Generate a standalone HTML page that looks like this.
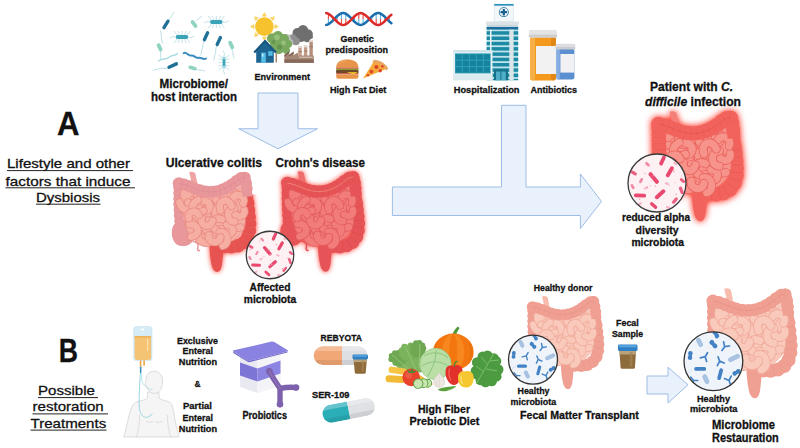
<!DOCTYPE html>
<html lang="en"><head><meta charset="utf-8"><title>Dysbiosis and microbiome restoration</title>
<style>
html,body{margin:0;padding:0;background:#fff;}
body{width:800px;height:448px;overflow:hidden;position:relative;}
svg{display:block;position:absolute;left:0;top:0;}
text{font-family:"Liberation Sans", sans-serif;fill:#111;stroke:#111;stroke-width:0.3px;}
</style></head><body>
<svg width="800" height="448" viewBox="0 0 800 448">
<defs>
<filter id="glow" x="-30%" y="-30%" width="160%" height="160%" color-interpolation-filters="sRGB">
<feGaussianBlur in="SourceAlpha" stdDeviation="3.2" result="b"/>
<feFlood flood-color="#ff6f66" flood-opacity="1"/><feComposite in2="b" operator="in" result="g"/>
<feComponentTransfer in="g" result="g2"><feFuncA type="linear" slope="1.35"/></feComponentTransfer>
<feMerge><feMergeNode in="g2"/><feMergeNode in="SourceGraphic"/></feMerge>
</filter>
<filter id="glowL" x="-30%" y="-30%" width="160%" height="160%" color-interpolation-filters="sRGB">
<feGaussianBlur in="SourceAlpha" stdDeviation="4" result="b"/>
<feFlood flood-color="#ff6458" flood-opacity="1"/><feComposite in2="b" operator="in" result="g"/>
<feComponentTransfer in="g" result="g2"><feFuncA type="linear" slope="1.6"/></feComponentTransfer>
<feMerge><feMergeNode in="g2"/><feMergeNode in="SourceGraphic"/></feMerge>
</filter>
<clipPath id="ucclip"><rect x="30" y="29" width="90" height="120"/></clipPath><g id="gs"><path d="M9.5 24.0C12.6 20.3 23.2 27.0 30.0 28.0C36.8 29.0 43.3 30.3 50.0 30.0C56.7 29.7 64.3 27.7 70.0 26.0C75.7 24.3 81.4 16.8 84.0 20.0C86.6 23.2 85.0 38.0 85.5 45.0C86.0 52.0 87.2 57.5 87.0 62.0C86.8 66.5 85.9 69.0 84.5 72.0C83.1 75.0 80.9 77.7 78.5 80.0C76.1 82.3 73.4 84.3 70.0 86.0C66.6 87.7 62.0 89.2 58.0 90.0C54.0 90.8 49.7 91.2 46.0 91.0C42.3 90.8 39.3 90.2 36.0 89.0C32.7 87.8 28.9 86.2 26.0 84.0C23.1 81.8 20.5 79.0 18.5 76.0C16.5 73.0 15.2 70.3 14.0 66.0C12.8 61.7 12.2 57.0 11.5 50.0C10.8 43.0 6.4 27.7 9.5 24.0Z" style="fill:var(--s);stroke:var(--so)" stroke-width="0.9"/><g fill="none" stroke-linecap="round"><g transform="translate(59.5 54.5) rotate(274)"><path d="M-8.6 -4.0C-8.6 8.0 8.6 8.0 8.6 -4.0" style="stroke:var(--so)" stroke-width="9.8"/><path d="M-8.6 -4.0C-8.6 8.0 8.6 8.0 8.6 -4.0" style="stroke:var(--s)" stroke-width="7.9"/></g><g transform="translate(56.9 72.2) rotate(160)"><path d="M-8.7 -4.2C-8.7 8.5 8.7 8.5 8.7 -4.2" style="stroke:var(--so)" stroke-width="9.8"/><path d="M-8.7 -4.2C-8.7 8.5 8.7 8.5 8.7 -4.2" style="stroke:var(--s)" stroke-width="7.9"/></g><g transform="translate(60.5 62.1) rotate(-16)"><path d="M-7.3 -2.9C-7.3 5.7 7.3 5.7 7.3 -2.9" style="stroke:var(--so)" stroke-width="9.8"/><path d="M-7.3 -2.9C-7.3 5.7 7.3 5.7 7.3 -2.9" style="stroke:var(--s)" stroke-width="7.9"/></g><g transform="translate(74.7 62.9) rotate(75)"><path d="M-7.6 -4.7C-7.6 9.4 7.6 9.4 7.6 -4.7" style="stroke:var(--so)" stroke-width="9.8"/><path d="M-7.6 -4.7C-7.6 9.4 7.6 9.4 7.6 -4.7" style="stroke:var(--s)" stroke-width="7.9"/></g><g transform="translate(16.6 41.6) rotate(-10)"><path d="M-8.7 -4.7C-8.7 9.4 8.7 9.4 8.7 -4.7" style="stroke:var(--so)" stroke-width="9.8"/><path d="M-8.7 -4.7C-8.7 9.4 8.7 9.4 8.7 -4.7" style="stroke:var(--s)" stroke-width="7.9"/></g><g transform="translate(49.5 41.5) rotate(96)"><path d="M-8.8 -3.7C-8.8 7.4 8.8 7.4 8.8 -3.7" style="stroke:var(--so)" stroke-width="9.8"/><path d="M-8.8 -3.7C-8.8 7.4 8.8 7.4 8.8 -3.7" style="stroke:var(--s)" stroke-width="7.9"/></g><g transform="translate(28.3 62.7) rotate(194)"><path d="M-8.9 -2.8C-8.9 5.6 8.9 5.6 8.9 -2.8" style="stroke:var(--so)" stroke-width="9.8"/><path d="M-8.9 -2.8C-8.9 5.6 8.9 5.6 8.9 -2.8" style="stroke:var(--s)" stroke-width="7.9"/></g><g transform="translate(58.4 33.9) rotate(-1)"><path d="M-8.2 -3.4C-8.2 6.8 8.2 6.8 8.2 -3.4" style="stroke:var(--so)" stroke-width="9.8"/><path d="M-8.2 -3.4C-8.2 6.8 8.2 6.8 8.2 -3.4" style="stroke:var(--s)" stroke-width="7.9"/></g><g transform="translate(35.0 53.5) rotate(-30)"><path d="M-7.6 -4.2C-7.6 8.4 7.6 8.4 7.6 -4.2" style="stroke:var(--so)" stroke-width="9.8"/><path d="M-7.6 -4.2C-7.6 8.4 7.6 8.4 7.6 -4.2" style="stroke:var(--s)" stroke-width="7.9"/></g><g transform="translate(45.6 33.0) rotate(111)"><path d="M-8.7 -3.5C-8.7 6.9 8.7 6.9 8.7 -3.5" style="stroke:var(--so)" stroke-width="9.8"/><path d="M-8.7 -3.5C-8.7 6.9 8.7 6.9 8.7 -3.5" style="stroke:var(--s)" stroke-width="7.9"/></g><g transform="translate(24.8 32.9) rotate(298)"><path d="M-8.6 -3.6C-8.6 7.2 8.6 7.2 8.6 -3.6" style="stroke:var(--so)" stroke-width="9.8"/><path d="M-8.6 -3.6C-8.6 7.2 8.6 7.2 8.6 -3.6" style="stroke:var(--s)" stroke-width="7.9"/></g><g transform="translate(35.0 33.3) rotate(25)"><path d="M-7.7 -4.0C-7.7 8.0 7.7 8.0 7.7 -4.0" style="stroke:var(--so)" stroke-width="9.8"/><path d="M-7.7 -4.0C-7.7 8.0 7.7 8.0 7.7 -4.0" style="stroke:var(--s)" stroke-width="7.9"/></g><g transform="translate(68.3 71.7) rotate(262)"><path d="M-6.0 -2.9C-6.0 5.8 6.0 5.8 6.0 -2.9" style="stroke:var(--so)" stroke-width="9.8"/><path d="M-6.0 -2.9C-6.0 5.8 6.0 5.8 6.0 -2.9" style="stroke:var(--s)" stroke-width="7.9"/></g><g transform="translate(47.9 73.8) rotate(10)"><path d="M-9.0 -4.5C-9.0 9.0 9.0 9.0 9.0 -4.5" style="stroke:var(--so)" stroke-width="9.8"/><path d="M-9.0 -4.5C-9.0 9.0 9.0 9.0 9.0 -4.5" style="stroke:var(--s)" stroke-width="7.9"/></g><g transform="translate(72.6 42.2) rotate(172)"><path d="M-8.2 -3.9C-8.2 7.8 8.2 7.8 8.2 -3.9" style="stroke:var(--so)" stroke-width="9.8"/><path d="M-8.2 -3.9C-8.2 7.8 8.2 7.8 8.2 -3.9" style="stroke:var(--s)" stroke-width="7.9"/></g><g transform="translate(46.4 52.3) rotate(267)"><path d="M-7.6 -3.8C-7.6 7.6 7.6 7.6 7.6 -3.8" style="stroke:var(--so)" stroke-width="9.8"/><path d="M-7.6 -3.8C-7.6 7.6 7.6 7.6 7.6 -3.8" style="stroke:var(--s)" stroke-width="7.9"/></g><g transform="translate(80.4 52.2) rotate(-13)"><path d="M-6.3 -2.8C-6.3 5.6 6.3 5.6 6.3 -2.8" style="stroke:var(--so)" stroke-width="9.8"/><path d="M-6.3 -2.8C-6.3 5.6 6.3 5.6 6.3 -2.8" style="stroke:var(--s)" stroke-width="7.9"/></g><g transform="translate(68.3 32.4) rotate(-0)"><path d="M-7.8 -4.6C-7.8 9.2 7.8 9.2 7.8 -4.6" style="stroke:var(--so)" stroke-width="9.8"/><path d="M-7.8 -4.6C-7.8 9.2 7.8 9.2 7.8 -4.6" style="stroke:var(--s)" stroke-width="7.9"/></g><g transform="translate(79.8 33.9) rotate(208)"><path d="M-7.1 -3.0C-7.1 6.1 7.1 6.1 7.1 -3.0" style="stroke:var(--so)" stroke-width="9.8"/><path d="M-7.1 -3.0C-7.1 6.1 7.1 6.1 7.1 -3.0" style="stroke:var(--s)" stroke-width="7.9"/></g><g transform="translate(70.5 53.6) rotate(91)"><path d="M-8.3 -3.4C-8.3 6.9 8.3 6.9 8.3 -3.4" style="stroke:var(--so)" stroke-width="9.8"/><path d="M-8.3 -3.4C-8.3 6.9 8.3 6.9 8.3 -3.4" style="stroke:var(--s)" stroke-width="7.9"/></g><g transform="translate(39.5 43.3) rotate(270)"><path d="M-6.7 -3.6C-6.7 7.1 6.7 7.1 6.7 -3.6" style="stroke:var(--so)" stroke-width="9.8"/><path d="M-6.7 -3.6C-6.7 7.1 6.7 7.1 6.7 -3.6" style="stroke:var(--s)" stroke-width="7.9"/></g><g transform="translate(62.1 41.7) rotate(159)"><path d="M-7.3 -4.4C-7.3 8.7 7.3 8.7 7.3 -4.4" style="stroke:var(--so)" stroke-width="9.8"/><path d="M-7.3 -4.4C-7.3 8.7 7.3 8.7 7.3 -4.4" style="stroke:var(--s)" stroke-width="7.9"/></g><g transform="translate(51.9 64.0) rotate(117)"><path d="M-7.2 -3.9C-7.2 7.8 7.2 7.8 7.2 -3.9" style="stroke:var(--so)" stroke-width="9.8"/><path d="M-7.2 -3.9C-7.2 7.8 7.2 7.8 7.2 -3.9" style="stroke:var(--s)" stroke-width="7.9"/></g><g transform="translate(33.8 72.5) rotate(160)"><path d="M-6.4 -3.5C-6.4 6.9 6.4 6.9 6.4 -3.5" style="stroke:var(--so)" stroke-width="9.8"/><path d="M-6.4 -3.5C-6.4 6.9 6.4 6.9 6.4 -3.5" style="stroke:var(--s)" stroke-width="7.9"/></g><g transform="translate(37.9 83.4) rotate(15)"><path d="M-8.9 -3.3C-8.9 6.6 8.9 6.6 8.9 -3.3" style="stroke:var(--so)" stroke-width="9.8"/><path d="M-8.9 -3.3C-8.9 6.6 8.9 6.6 8.9 -3.3" style="stroke:var(--s)" stroke-width="7.9"/></g><g transform="translate(28.9 44.4) rotate(63)"><path d="M-7.4 -4.6C-7.4 9.2 7.4 9.2 7.4 -4.6" style="stroke:var(--so)" stroke-width="9.8"/><path d="M-7.4 -4.6C-7.4 9.2 7.4 9.2 7.4 -4.6" style="stroke:var(--s)" stroke-width="7.9"/></g><g transform="translate(24.3 72.3) rotate(262)"><path d="M-7.6 -4.1C-7.6 8.2 7.6 8.2 7.6 -4.1" style="stroke:var(--so)" stroke-width="9.8"/><path d="M-7.6 -4.1C-7.6 8.2 7.6 8.2 7.6 -4.1" style="stroke:var(--s)" stroke-width="7.9"/></g><g transform="translate(61.1 82.3) rotate(257)"><path d="M-8.5 -3.3C-8.5 6.6 8.5 6.6 8.5 -3.3" style="stroke:var(--so)" stroke-width="9.8"/><path d="M-8.5 -3.3C-8.5 6.6 8.5 6.6 8.5 -3.3" style="stroke:var(--s)" stroke-width="7.9"/></g><g transform="translate(40.0 62.7) rotate(12)"><path d="M-6.8 -3.5C-6.8 6.9 6.8 6.9 6.8 -3.5" style="stroke:var(--so)" stroke-width="9.8"/><path d="M-6.8 -3.5C-6.8 6.9 6.8 6.9 6.8 -3.5" style="stroke:var(--s)" stroke-width="7.9"/></g><g transform="translate(49.3 82.8) rotate(10)"><path d="M-7.2 -3.1C-7.2 6.3 7.2 6.3 7.2 -3.1" style="stroke:var(--so)" stroke-width="9.8"/><path d="M-7.2 -3.1C-7.2 6.3 7.2 6.3 7.2 -3.1" style="stroke:var(--s)" stroke-width="7.9"/></g><g transform="translate(23.6 53.4) rotate(162)"><path d="M-6.4 -2.8C-6.4 5.7 6.4 5.7 6.4 -2.8" style="stroke:var(--so)" stroke-width="9.8"/><path d="M-6.4 -2.8C-6.4 5.7 6.4 5.7 6.4 -2.8" style="stroke:var(--s)" stroke-width="7.9"/></g></g></g></defs>
<path d="M258 93 H298 V128.75 H317.5 L278 148.75 L238.75 128.75 H258 Z" fill="#e9f2fc" stroke="#9dbce6" stroke-width="1" stroke-linejoin="miter"/>
<path d="M501.5 105.3 H526 V187 H580.4 V174 L601.5 201.4 L580.4 228.5 V215.5 H392.4 V187 H501.5 Z" fill="#e9f2fc" stroke="#9dbce6" stroke-width="1"/>
<path d="M647 376 H668 V367.25 L688 384.75 L668 403 V394 H647 Z" fill="#e9f2fc" stroke="#9dbce6" stroke-width="1"/>
<path d="M147.6 392 C147.4 396 147.6 398 146.5 399 C142 401 137 401.2 134.2 403.5 C130.5 407 129 416 127 424 C125.8 430 124.6 434 123.6 437 L179 437 C178 433 176.8 429 175.6 423 C173.8 414 173.5 406 170.5 402.8 C168 400.6 163 400.8 160 399 C158.8 398 159 395.5 159 392 Z" fill="#f5f5f5" stroke="#d4d4d4" stroke-width="0.8"/><path d="M139.5 415 C140 423 138 431 136.5 437 M167.5 415 C167 423 169 431 170.5 437 M146 421 q4 2.5 7.5 0.5 M155.5 421.5 q4 2 7 -0.5" fill="none" stroke="#d4d4d4" stroke-width="0.7"/><path d="M153.8 371.3 C159.5 371.3 162.8 375.5 162.6 381.5 C162.5 384 162.2 385.5 161.6 387 C161 390 158.5 393.4 154.5 393.4 C151 393.4 148.2 391 147 387.5 C146.2 387.4 145.2 385.5 145.2 383.5 C145.2 382.3 145.6 381.8 146 381.8 C145.2 376 148.5 371.3 153.8 371.3Z" fill="#f5f5f5" stroke="#d4d4d4" stroke-width="0.8"/><path d="M140.4 373 C139.6 385 139 398 139.2 406 C139.5 416 146 421.5 152.4 413.6" fill="none" stroke="#8fd0dc" stroke-width="0.9"/><path d="M141.4 373 C141.6 380 142 384 145.4 386 C148 387.8 150.5 390.5 152.6 389.2" fill="none" stroke="#a6dbe5" stroke-width="0.8"/><rect x="133.7" y="326.6" width="18.3" height="34" rx="2.6" fill="#d6ecf7" stroke="#c2e0f0" stroke-width="0.6"/><path d="M134.6 336 H151.1 V357.6 Q151.1 359.9 148.8 359.9 H136.9 Q134.6 359.9 134.6 357.6 Z" fill="#f5c374"/><rect x="134.6" y="336" width="16.5" height="1.6" fill="#eeb258"/><ellipse cx="142.6" cy="329.4" rx="1.7" ry="0.9" fill="#fff"/><rect x="147" y="338.5" width="1.1" height="12.5" rx="0.5" fill="#fbe3b4"/><rect x="139.8" y="360.4" width="1.6" height="6.4" fill="#e9a545"/><rect x="143.3" y="360.4" width="1.6" height="5.2" fill="#e9a545"/><rect x="139.9" y="366.8" width="1.5" height="6.2" rx="0.5" fill="#2f8fc4"/>
<path d="M240 354 L257.5 360 L257.5 393 L241.5 387.5 Q240 387 240 385.5 Z" fill="#e9e9f1"/><path d="M257.5 360 L280.5 352 L280.5 384.5 Q280.5 386 279 386.5 L257.5 393 Z" fill="#f4f4f8"/><path d="M240 362.5 L257.5 368.5 L257.5 381.5 L240 375.5 Z" fill="#7d75d6"/><path d="M257.5 368.5 L280.5 360.5 L280.5 373.5 L257.5 381.5 Z" fill="#8c84e2"/><path d="M233.4 351.6 Q232 350.8 233.8 350.3 L271.5 341.6 Q273 341.3 274.3 342 L287.4 350 Q288.8 351 287.2 351.5 L250.3 360.6 Q248.6 361 247.2 360.2 Z" fill="#8a82e0"/><path d="M233.2 351.5 L247.2 360.2 Q248.6 361 250.3 360.6 L287.5 351.4 L287.5 352.6 L250.3 362 Q248.6 362.4 247.2 361.6 L233.2 352.9 Z" fill="#756dcb"/><path d="M269.2 371 C272 377 276.5 383 280 388.5 L280 404.5 M280 388.5 C285 387.5 291 387 296.2 387.6" fill="none" stroke="#7d61ad" stroke-width="5.4" stroke-linecap="round" stroke-linejoin="round"/><g fill="#7d61ad"><circle cx="269.4" cy="371.4" r="3.3"/><circle cx="280" cy="404.2" r="3.3"/><circle cx="296" cy="387.6" r="3.3"/></g><path d="M269.6 371.5 C272 377 276.5 383 280 388.5" fill="none" stroke="#8e74bb" stroke-width="1.6" stroke-linecap="round" opacity="0.7"/>
<clipPath id="cpA"><rect x="313.7" y="346.2" width="53.8" height="18.8" rx="9.4"/></clipPath><g clip-path="url(#cpA)"><rect x="313" y="346" width="29" height="20" fill="#f1a776"/><rect x="342" y="346" width="26" height="20" fill="#dedfe3"/><rect x="313" y="346" width="55" height="5" fill="#fff" opacity="0.25"/><rect x="313" y="360" width="55" height="5.5" fill="#000" opacity="0.07"/></g><path d="M353.6 359.0 H366.9 L365.7 372.8 Q365.5 373.8 364.3 373.8 H356.2 Q355.0 373.8 354.8 372.8 Z" fill="#8d6b3a"/><rect x="353.9" y="359.0" width="12.7" height="3.1" fill="#b9a27a"/><rect x="361.8" y="360.5" width="2.1" height="11.3" fill="#a58655" opacity="0.7"/><rect x="352.5" y="354.5" width="15.5" height="5.0" rx="1.4" fill="#2f80c4"/><rect x="353.3" y="355.2" width="13.9" height="1.5" rx="0.8" fill="#5aa5e0"/><g transform="translate(348.7 410.3) rotate(-11)"><clipPath id="cpB"><rect x="-26.5" y="-9" width="53" height="18" rx="9"/></clipPath><g clip-path="url(#cpB)"><rect x="-27" y="-9" width="27" height="18" fill="#2aaeb8"/><rect x="0" y="-9" width="27" height="18" fill="#dfe1e5"/><rect x="-27" y="-9" width="54" height="4.5" fill="#fff" opacity="0.28"/><rect x="-27" y="4" width="54" height="5" fill="#000" opacity="0.08"/></g></g><path d="M619.4 350.6 H636.1 L634.9 367.7 Q634.7 368.7 633.5 368.7 H622.0 Q620.8 368.7 620.6 367.7 Z" fill="#8d6b3a"/><rect x="619.7" y="350.6" width="16.2" height="3.9" fill="#b9a27a"/><rect x="629.8" y="352.1" width="2.7" height="14.6" fill="#a58655" opacity="0.7"/><rect x="618.0" y="344.5" width="19.5" height="6.6" rx="1.4" fill="#2f80c4"/><rect x="618.8" y="345.2" width="17.9" height="2.0" rx="0.8" fill="#5aa5e0"/>
<path d="M168.8 19.5 C170.5 17 171.5 17.5 172 15.5 C172.4 14 173.4 14.2 173.8 12.6 M203.8 41.5 C202 45 203.5 46.5 202 49.5 C201 51.5 202 53 200.6 55 M216.6 46 C215 50 216.5 51 215 54.5 C214 56.5 215 58 213.6 60 M167.5 68 C163 69.5 162 67 158.5 69 C156.5 70 155.5 69 153.6 70.4 M160.4 51 C161.4 54.5 159.8 56.5 161.2 59.5 M232 49.5 C233.5 52.5 232.5 55.5 234 58 M196 69.5 C199 70.8 201 69.2 204.5 71 M162.5 43 C160.5 38 162.2 35 160.4 31 M196.4 20.5 C198.5 17.5 200.5 18.5 202 16" fill="none" stroke="#a9d6e0" stroke-width="0.8" stroke-linecap="round"/><path d="M158.6 61 C163 57.5 165.5 60.5 169.5 57 C172 54.8 174.5 56.4 177.5 53.4" fill="none" stroke="#a5dbe0" stroke-width="1.4" stroke-linecap="round"/><path d="M-5.0 -1.2Q-5.6 -3.6 -8.2 -6.0M-5.0 1.2Q-5.6 3.6 -8.2 6.0M-2.5 -1.2Q-2.8 -3.6 -4.2 -6.0M-2.5 1.2Q-2.8 3.6 -4.2 6.0M0.0 -1.2Q0.0 -3.6 0.0 -6.0M0.0 1.2Q0.0 3.6 0.0 6.0M2.5 -1.2Q2.8 -3.6 4.2 -6.0M2.5 1.2Q2.8 3.6 4.2 6.0M5.0 -1.2Q5.6 -3.6 8.2 -6.0M5.0 1.2Q5.6 3.6 8.2 6.0M-6.25 0 q-3 -1.5 -6 1 M6.25 0 q3 1.5 6 -1" fill="none" stroke="#a9d6e0" stroke-width="0.7" transform="translate(216.3 22) rotate(0)"/><rect x="-6.25" y="-1.9" width="12.5" height="3.8" rx="1.9" fill="#3aa3b8" transform="translate(216.3 22) rotate(0)"/><path d="M-5.0 -1.2Q-5.6 -3.6 -8.2 -6.0M-5.0 1.2Q-5.6 3.6 -8.2 6.0M-2.5 -1.2Q-2.8 -3.6 -4.2 -6.0M-2.5 1.2Q-2.8 3.6 -4.2 6.0M0.0 -1.2Q0.0 -3.6 0.0 -6.0M0.0 1.2Q0.0 3.6 0.0 6.0M2.5 -1.2Q2.8 -3.6 4.2 -6.0M2.5 1.2Q2.8 3.6 4.2 6.0M5.0 -1.2Q5.6 -3.6 8.2 -6.0M5.0 1.2Q5.6 3.6 8.2 6.0M-6.25 0 q-3 -1.5 -6 1 M6.25 0 q3 1.5 6 -1" fill="none" stroke="#a9d6e0" stroke-width="0.7" transform="translate(182 37) rotate(0)"/><rect x="-6.25" y="-1.9" width="12.5" height="3.8" rx="1.9" fill="#3aa3b8" transform="translate(182 37) rotate(0)"/><path d="M-4.8 -1.2Q-5.4 -3.3 -7.7 -5.5M-4.8 1.2Q-5.4 3.3 -7.7 5.5M-2.4 -1.2Q-2.7 -3.3 -3.9 -5.5M-2.4 1.2Q-2.7 3.3 -3.9 5.5M0.0 -1.2Q0.0 -3.3 0.0 -5.5M0.0 1.2Q0.0 3.3 0.0 5.5M2.4 -1.2Q2.7 -3.3 3.9 -5.5M2.4 1.2Q2.7 3.3 3.9 5.5M4.8 -1.2Q5.4 -3.3 7.7 -5.5M4.8 1.2Q5.4 3.3 7.7 5.5M-6.0 0 q-3 -1.5 -6 1 M6.0 0 q3 1.5 6 -1" fill="none" stroke="#a9d6e0" stroke-width="0.7" transform="translate(224 62.5) rotate(90)"/><rect x="-6.0" y="-2.0" width="12" height="4" rx="2.0" fill="#a5dbe0" transform="translate(224 62.5) rotate(90)"/><rect x="-3.5" y="-1.0" width="7" height="2" rx="1.0" fill="#3aa3b8" transform="translate(224 62.5) rotate(90)"/><rect x="-5.5" y="-1.65" width="11" height="3.3" rx="1.65" fill="#1f6f97" transform="translate(166 24.4) rotate(-58)"/><rect x="-5.5" y="-1.65" width="11" height="3.3" rx="1.65" fill="#1f6f97" transform="translate(206 36.3) rotate(-65)"/><rect x="-5.5" y="-1.65" width="11" height="3.3" rx="1.65" fill="#1f6f97" transform="translate(218.8 41) rotate(-65)"/><rect x="-5.75" y="-1.7" width="11.5" height="3.4" rx="1.7" fill="#1f6f97" transform="translate(172.7 65.6) rotate(-25)"/><rect x="-4.3" y="-1.9" width="8.6" height="3.8" rx="1.9" fill="#8fd3c0" transform="translate(194 24) rotate(52)"/><rect x="-4.5" y="-1.9" width="9" height="3.8" rx="1.9" fill="#8fd3c0" transform="translate(231.2 45) rotate(65)"/><rect x="-4.3" y="-1.9" width="8.6" height="3.8" rx="1.9" fill="#8fd3c0" transform="translate(159.6 47.3) rotate(65)"/><rect x="-4.3" y="-1.8" width="8.6" height="3.6" rx="1.8" fill="#8fd3c0" transform="translate(192.6 68) rotate(15)"/><path d="M183.6 53.2 C186.5 51 188 56.5 191 55.5 C194 54.5 195.5 58.8 198.5 57.8 C201 56.8 202.4 60 206 58.6" fill="none" stroke="#3b8dbf" stroke-width="2" stroke-linecap="round"/>
<path d="M262.3 16.2L264.4 12.6L266.5 16.2ZM270.3 17.8L274.3 16.7L273.2 20.7ZM274.8 24.5L278.4 26.6L274.8 28.7ZM273.2 32.5L274.3 36.5L270.3 35.4ZM266.5 37.0L264.4 40.6L262.3 37.0ZM258.5 35.4L254.5 36.5L255.6 32.5ZM254.0 28.7L250.4 26.6L254.0 24.5ZM255.6 20.7L254.5 16.7L258.5 17.8Z" fill="#f9d35f" stroke="#f9d35f" stroke-width="0.6" stroke-linejoin="round"/><circle cx="264.4" cy="26.6" r="9.3" fill="#f6c22d"/><g fill="#6f6f6f"><circle cx="297.5" cy="33" r="5"/><circle cx="303" cy="30.5" r="5.4"/><circle cx="308.5" cy="34" r="4.4"/><circle cx="301" cy="37.5" r="4.6"/><circle cx="307" cy="38.8" r="3.4"/><circle cx="311" cy="37" r="2"/></g><g fill="#8f8f8f"><circle cx="292.6" cy="38.6" r="4.4"/><circle cx="296" cy="41.4" r="3.8"/></g><g fill="#bdbdbd"><circle cx="286.6" cy="38.4" r="4.4"/><circle cx="289.4" cy="42.6" r="3.8"/><circle cx="284.4" cy="42" r="3"/></g><rect x="275.6" y="50" width="1.3" height="12.5" fill="#9a7a5c"/><rect x="286.4" y="50" width="1.3" height="12.5" fill="#9a7a5c"/><g fill="#79a95f"><circle cx="272" cy="38.5" r="5"/><circle cx="278" cy="36" r="5"/><circle cx="284" cy="39" r="5"/><circle cx="276" cy="43.5" r="6"/><circle cx="283.5" cy="46" r="5.6"/><circle cx="288" cy="44" r="4"/><circle cx="279" cy="49.5" r="4.6"/><circle cx="286.5" cy="50.5" r="3.6"/></g><g fill="#96c079"><circle cx="277" cy="37.2" r="2.8"/><circle cx="283.5" cy="43" r="2.4"/></g><g fill="#64954e"><circle cx="279.5" cy="47" r="2.6"/><circle cx="273.5" cy="42" r="2"/></g><rect x="309.4" y="40" width="3.4" height="22.5" fill="#b58f7c"/><rect x="309.4" y="40" width="3.4" height="2" fill="#e4dcd6"/><rect x="309.4" y="46" width="3.4" height="1.2" fill="#9a7664"/><rect x="303.9" y="45.6" width="3.4" height="17" fill="#c49d8a"/><rect x="303.9" y="45.6" width="3.4" height="1.8" fill="#e4dcd6"/><rect x="303.9" y="50.5" width="3.4" height="1.2" fill="#a4806e"/><rect x="298.3" y="46.2" width="3.4" height="16.4" fill="#c49d8a"/><rect x="298.3" y="46.2" width="3.4" height="1.8" fill="#e4dcd6"/><rect x="298.3" y="51" width="3.4" height="1.2" fill="#a4806e"/><path d="M284.4 62.8 V55 L289 51.6 V55 L293.6 51.6 V55 L298 52.6 V55.4 H313.8 V62.8 Z" fill="#a68877"/><path d="M284.4 55 L289 51.6 V53.4 L284.4 56.8Z M289 55 L293.6 51.6 V53.4 L289 56.8Z" fill="#7d5f50"/><rect x="284.4" y="59.4" width="29.4" height="3.4" fill="#86695a"/><path d="M299 56.6h13.6v1.4h-13.6z" fill="#cdb8aa"/><path d="M256.2 51 L265 40 L273.8 51 L273.8 62.8 L256.2 62.8 Z" fill="#1d6491"/><path d="M253.4 51.8 L265 39.4 L276.8 51.8 L275.2 53.2 L265 42.4 L255 53.2 Z" fill="#17577f"/><rect x="261.2" y="52.6" width="4.6" height="10.2" fill="#54bde6"/><rect x="262" y="53.6" width="1.4" height="3" fill="#c8ecf9"/><rect x="268.2" y="51.2" width="4.4" height="4.6" fill="#54bde6"/>
<path d="M328.4 13.8V19.0" stroke="#e8453f" stroke-width="1.1"/><path d="M328.4 19.0V24.2" stroke="#58b4e0" stroke-width="1.1"/><path d="M337.1 16.2V19.0" stroke="#58b4e0" stroke-width="1.1"/><path d="M337.1 19.0V21.8" stroke="#e8453f" stroke-width="1.1"/><path d="M341.4 13.4V19.0" stroke="#58b4e0" stroke-width="1.1"/><path d="M341.4 19.0V24.6" stroke="#e8453f" stroke-width="1.1"/><path d="M345.8 13.8V19.0" stroke="#58b4e0" stroke-width="1.1"/><path d="M345.8 19.0V24.2" stroke="#e8453f" stroke-width="1.1"/><path d="M354.5 16.3V19.0" stroke="#e8453f" stroke-width="1.1"/><path d="M354.5 19.0V21.7" stroke="#58b4e0" stroke-width="1.1"/><path d="M358.8 13.4V19.0" stroke="#e8453f" stroke-width="1.1"/><path d="M358.8 19.0V24.6" stroke="#58b4e0" stroke-width="1.1"/><path d="M363.1 13.7V19.0" stroke="#e8453f" stroke-width="1.1"/><path d="M363.1 19.0V24.3" stroke="#58b4e0" stroke-width="1.1"/><path d="M371.8 16.4V19.0" stroke="#58b4e0" stroke-width="1.1"/><path d="M371.8 19.0V21.6" stroke="#e8453f" stroke-width="1.1"/><path d="M376.2 13.4V19.0" stroke="#58b4e0" stroke-width="1.1"/><path d="M376.2 19.0V24.6" stroke="#e8453f" stroke-width="1.1"/><path d="M380.5 13.7V19.0" stroke="#58b4e0" stroke-width="1.1"/><path d="M380.5 19.0V24.3" stroke="#e8453f" stroke-width="1.1"/><path d="M384.9 17.0V19.0" stroke="#58b4e0" stroke-width="1.1"/><path d="M384.9 19.0V21.0" stroke="#e8453f" stroke-width="1.1"/><path d="M389.2 16.6V19.0" stroke="#e8453f" stroke-width="1.1"/><path d="M389.2 19.0V21.4" stroke="#58b4e0" stroke-width="1.1"/><path d="M326.2 24.9L327.1 24.7L328.0 24.4L328.9 23.9L329.8 23.3L330.7 22.6L331.6 21.8L332.5 20.9L333.4 20.0L334.3 19.0L335.3 18.0L336.2 17.1L337.1 16.2L338.0 15.4L338.9 14.7L339.8 14.1L340.7 13.6L341.6 13.3L342.5 13.1L343.4 13.1L344.3 13.2L345.2 13.5L346.1 13.9L347.0 14.5L347.9 15.2L348.8 16.0L349.7 16.8L350.6 17.7L351.6 18.7L352.5 19.6L353.4 20.6L354.3 21.5L355.2 22.3L356.1 23.1L357.0 23.7L357.9 24.2L358.8 24.6L359.7 24.8L360.6 24.9L361.5 24.8L362.4 24.6L363.3 24.2L364.2 23.7L365.1 23.0L366.0 22.3L366.9 21.5L367.9 20.6L368.8 19.6L369.7 18.7L370.6 17.7L371.5 16.8L372.4 15.9L373.3 15.2L374.2 14.5L375.1 13.9L376.0 13.5L376.9 13.2L377.8 13.1L378.7 13.1L379.6 13.3L380.5 13.7L381.4 14.1L382.3 14.7L383.2 15.4L384.2 16.3L385.1 17.1L386.0 18.1L386.9 19.0L387.8 20.0L388.7 20.9L389.6 21.8L390.5 22.6L391.4 23.3" fill="none" stroke="#1b6fae" stroke-width="2.5" stroke-linecap="round"/><path d="M326.2 13.1L327.1 13.3L328.0 13.6L328.9 14.1L329.8 14.7L330.7 15.4L331.6 16.2L332.5 17.1L333.4 18.0L334.3 19.0L335.3 20.0L336.2 20.9L337.1 21.8L338.0 22.6L338.9 23.3L339.8 23.9L340.7 24.4L341.6 24.7L342.5 24.9L343.4 24.9L344.3 24.8L345.2 24.5L346.1 24.1L347.0 23.5L347.9 22.8L348.8 22.0L349.7 21.2L350.6 20.3L351.6 19.3L352.5 18.4L353.4 17.4L354.3 16.5L355.2 15.7L356.1 14.9L357.0 14.3L357.9 13.8L358.8 13.4L359.7 13.2L360.6 13.1L361.5 13.2L362.4 13.4L363.3 13.8L364.2 14.3L365.1 15.0L366.0 15.7L366.9 16.5L367.9 17.4L368.8 18.4L369.7 19.3L370.6 20.3L371.5 21.2L372.4 22.1L373.3 22.8L374.2 23.5L375.1 24.1L376.0 24.5L376.9 24.8L377.8 24.9L378.7 24.9L379.6 24.7L380.5 24.3L381.4 23.9L382.3 23.3L383.2 22.6L384.2 21.7L385.1 20.9L386.0 19.9L386.9 19.0L387.8 18.0L388.7 17.1L389.6 16.2L390.5 15.4L391.4 14.7" fill="none" stroke="#dc2b2b" stroke-width="2.5" stroke-linecap="round"/>
<path d="M336.2 67.6 C336.2 61.5 341.5 59.5 347.2 59.5 C353 59.5 358.4 61.5 358.4 67.6 Z" fill="#e8944a"/><path d="M338.6 64.6 C340 61.8 343.6 60.8 346.6 60.8" fill="none" stroke="#f1ad6c" stroke-width="1"/><rect x="335.9" y="67.4" width="22.8" height="1.3" rx="0.6" fill="#d8472f"/><rect x="336.2" y="68.6" width="22.2" height="1.7" fill="#8a9a35"/><rect x="336" y="70.1" width="22.6" height="3.1" rx="1.2" fill="#6e4a2a"/><path d="M347 72.2 H357.6 L353.6 75 L350.6 73.6 Z" fill="#f6c431"/><rect x="336.2" y="73.2" width="22.2" height="1.2" fill="#c9452e"/><path d="M336.2 74.4 H358.4 V76.2 Q358.4 78.8 355.6 78.8 H339 Q336.2 78.8 336.2 76.2 Z" fill="#e8944a"/><path d="M347 72.4 H357 L353.6 74.6 L350.8 73.4 Z" fill="#f6c431"/><path d="M363 78.6 L374.5 60.5 C379.5 61 384.5 64 387.3 68.6 Z" fill="#f5ab3c"/><path d="M373.6 59.8 C379.8 59.8 385.6 63.4 388.2 68.4 L386.2 70.4 C383.6 65.8 379 63 372.4 62.8 Z" fill="#e8a55e"/><g fill="#e0452c"><circle cx="376.4" cy="67" r="2.1"/><circle cx="371.4" cy="71.6" r="1.9"/><circle cx="380.2" cy="70.8" r="1.7"/><circle cx="382.4" cy="66.4" r="1.3"/><circle cx="368" cy="75.2" r="1.2"/></g>
<rect x="494.2" y="4" width="19.4" height="17.6" fill="#f3f7f9" stroke="#d3e4ea" stroke-width="0.6"/><rect x="494.2" y="4" width="19.4" height="1.7" fill="#2e93bd"/><circle cx="503.8" cy="12.2" r="4.9" fill="#1f6f9c"/><circle cx="503.8" cy="12.2" r="4.1" fill="#f3f7f9"/><path d="M502.7 8.9h2.2v2.2h2.2v2.2h-2.2v2.2h-2.2v-2.2h-2.2v-2.2h2.2z" fill="#1a5f8f"/><rect x="485.8" y="21.6" width="33.2" height="3.2" rx="0.8" fill="#dbe3e6"/><rect x="486.6" y="24.6" width="31.6" height="2.6" fill="#c7d6db"/><rect x="486.6" y="27" width="31.6" height="53.2" fill="#bde3eb"/><rect x="486.6" y="27" width="31.6" height="2.6" fill="#1a6fa0"/><rect x="486.6" y="31.2" width="31.6" height="3.5" fill="#1c8aa5"/><rect x="486.6" y="36.5" width="31.6" height="3.5" fill="#1c8aa5"/><rect x="486.6" y="41.8" width="31.6" height="3.5" fill="#1c8aa5"/><rect x="486.6" y="47.1" width="31.6" height="3.5" fill="#1c8aa5"/><rect x="486.6" y="52.4" width="31.6" height="3.5" fill="#1c8aa5"/><rect x="486.6" y="57.7" width="31.6" height="3.5" fill="#1c8aa5"/><rect x="486.6" y="63.0" width="31.6" height="3.5" fill="#1c8aa5"/><rect x="486.6" y="68.3" width="31.6" height="3.5" fill="#1c8aa5"/><rect x="486.6" y="73.6" width="31.6" height="3.5" fill="#1c8aa5"/><rect x="486.6" y="78.9" width="31.6" height="1.3" fill="#1c8aa5"/><rect x="490" y="29.6" width="1.5" height="50.6" fill="#eef5f7"/><rect x="509.3" y="29.6" width="4.3" height="50.6" fill="#dbe6ea"/><rect x="494" y="69.5" width="14" height="10.7" fill="#15708a"/><rect x="496" y="71.5" width="4.4" height="8.7" fill="#4eaec8"/><rect x="501.4" y="71.5" width="4.4" height="8.7" fill="#4eaec8"/><rect x="453" y="50" width="39.5" height="30.2" fill="#e6f1f4"/><rect x="453" y="50" width="39.5" height="2.2" fill="#cfe4ea"/><rect x="455" y="53.4" width="35.6" height="20" fill="#2a9db7"/><rect x="455.8" y="54.4" width="5.9" height="5.2" fill="#17829c"/><rect x="462.9" y="54.4" width="5.9" height="5.2" fill="#17829c"/><rect x="469.9" y="54.4" width="5.9" height="5.2" fill="#17829c"/><rect x="476.9" y="54.4" width="5.9" height="5.2" fill="#17829c"/><rect x="484.0" y="54.4" width="5.9" height="5.2" fill="#17829c"/><rect x="455.8" y="60.8" width="5.9" height="5.2" fill="#17829c"/><rect x="462.9" y="60.8" width="5.9" height="5.2" fill="#17829c"/><rect x="469.9" y="60.8" width="5.9" height="5.2" fill="#17829c"/><rect x="476.9" y="60.8" width="5.9" height="5.2" fill="#17829c"/><rect x="484.0" y="60.8" width="5.9" height="5.2" fill="#17829c"/><rect x="455.8" y="67.2" width="5.9" height="5.2" fill="#17829c"/><rect x="462.9" y="67.2" width="5.9" height="5.2" fill="#17829c"/><rect x="469.9" y="67.2" width="5.9" height="5.2" fill="#17829c"/><rect x="476.9" y="67.2" width="5.9" height="5.2" fill="#17829c"/><rect x="484.0" y="67.2" width="5.9" height="5.2" fill="#17829c"/><rect x="453" y="74.6" width="39.5" height="5.6" fill="#dcebef"/>
<rect x="530" y="36.5" width="26" height="44" rx="3" fill="#f39a1e"/><rect x="530" y="36.5" width="5" height="44" rx="2.5" fill="#f7b34d" opacity="0.9"/><rect x="551" y="36.5" width="5" height="44" rx="2.5" fill="#d97f12" opacity="0.7"/><rect x="536" y="46" width="20" height="28" fill="#f2f2f2"/><rect x="528.8" y="30" width="28.4" height="7.6" rx="2" fill="#e4e4e4"/><rect x="528.8" y="34.6" width="28.4" height="3" rx="1.4" fill="#cfcfcf"/><rect x="556.4" y="48" width="18" height="31.6" rx="2.4" fill="#5b8fd0"/><rect x="556.4" y="48" width="3.4" height="31.6" rx="1.7" fill="#86aee2"/><rect x="560.4" y="54" width="14" height="18.6" fill="#f1f1f3"/><rect x="555.5" y="43.8" width="19.8" height="5.4" rx="1.6" fill="#dcdde0"/><rect x="555.5" y="47" width="19.8" height="2.2" rx="1" fill="#c9cacd"/>
<path d="M392 362 L420 350 L424 372 L404 374 Z" fill="#7fb35f"/><ellipse cx="398" cy="358" rx="7.6" ry="6.0" fill="#6fa852"/><circle cx="405.0" cy="358.7" r="2.8" fill="#6fa852"/><circle cx="402.7" cy="362.0" r="2.8" fill="#6fa852"/><circle cx="400.1" cy="363.2" r="2.8" fill="#6fa852"/><circle cx="395.3" cy="363.0" r="2.8" fill="#6fa852"/><circle cx="391.2" cy="359.3" r="2.8" fill="#6fa852"/><circle cx="391.6" cy="355.8" r="2.8" fill="#6fa852"/><circle cx="394.8" cy="353.1" r="2.8" fill="#6fa852"/><circle cx="398.8" cy="352.6" r="2.8" fill="#6fa852"/><circle cx="403.5" cy="354.6" r="2.8" fill="#6fa852"/><ellipse cx="409" cy="352" rx="7.6" ry="6.8" fill="#79b35b"/><circle cx="416.0" cy="351.5" r="3.4" fill="#79b35b"/><circle cx="414.3" cy="356.1" r="3.4" fill="#79b35b"/><circle cx="410.5" cy="358.1" r="3.4" fill="#79b35b"/><circle cx="405.3" cy="357.3" r="3.4" fill="#79b35b"/><circle cx="402.3" cy="353.9" r="3.4" fill="#79b35b"/><circle cx="402.1" cy="350.6" r="3.4" fill="#79b35b"/><circle cx="404.6" cy="347.1" r="3.4" fill="#79b35b"/><circle cx="410.9" cy="346.0" r="3.4" fill="#79b35b"/><circle cx="414.0" cy="347.7" r="3.4" fill="#79b35b"/><ellipse cx="418" cy="349" rx="6.0" ry="6.8" fill="#6fa852"/><circle cx="423.4" cy="348.5" r="2.9" fill="#6fa852"/><circle cx="422.6" cy="352.4" r="2.9" fill="#6fa852"/><circle cx="419.1" cy="355.1" r="2.9" fill="#6fa852"/><circle cx="415.8" cy="354.7" r="2.9" fill="#6fa852"/><circle cx="413.2" cy="351.9" r="2.9" fill="#6fa852"/><circle cx="412.8" cy="347.0" r="2.9" fill="#6fa852"/><circle cx="415.9" cy="343.2" r="2.9" fill="#6fa852"/><circle cx="419.4" cy="343.0" r="2.9" fill="#6fa852"/><circle cx="422.4" cy="345.4" r="2.9" fill="#6fa852"/><path d="M392 355 L412 372 M405 346 L416 370 M420 344 L419 368" stroke="#94c777" stroke-width="0.9" fill="none"/><path d="M451.5 338.5 C452 334 454 330 457.6 326.6 L459.6 328 C457 331.5 455.6 335 455.4 338.8 Z" fill="#4f9a3a"/><ellipse cx="453.3" cy="352" rx="20.4" ry="18.4" fill="#f3760f"/><ellipse cx="453.3" cy="352" rx="11" ry="18.2" fill="#f7871f"/><ellipse cx="453.3" cy="352" rx="4" ry="17.8" fill="#f3760f"/><path d="M437 343 C434.5 350 435 358 438 364 M469.5 343 C472 350 471.5 358 468.5 364" stroke="#e06c10" stroke-width="0.8" fill="none"/><ellipse cx="487" cy="369" rx="12.3" ry="14.4" fill="#4c9b40"/><circle cx="498.3" cy="369.5" r="5.2" fill="#4c9b40"/><circle cx="496.4" cy="376.4" r="5.2" fill="#4c9b40"/><circle cx="491.8" cy="381.0" r="5.2" fill="#4c9b40"/><circle cx="485.5" cy="382.1" r="5.2" fill="#4c9b40"/><circle cx="480.7" cy="380.0" r="5.2" fill="#4c9b40"/><circle cx="476.6" cy="374.1" r="5.2" fill="#4c9b40"/><circle cx="475.8" cy="370.9" r="5.2" fill="#4c9b40"/><circle cx="477.1" cy="362.5" r="5.2" fill="#4c9b40"/><circle cx="482.7" cy="356.7" r="5.2" fill="#4c9b40"/><circle cx="487.5" cy="355.8" r="5.2" fill="#4c9b40"/><circle cx="493.8" cy="358.4" r="5.2" fill="#4c9b40"/><circle cx="496.1" cy="361.1" r="5.2" fill="#4c9b40"/><path d="M476 384 C482 374 488 364 494 353 M484 372 L476 366 M488 365 L481 357 M486 369 L497 371 M490 361 L499 360" stroke="#78bd68" stroke-width="1" fill="none"/><circle cx="435.5" cy="364" r="15.6" fill="#b9dea6"/><path d="M424 356 C430 352 441 351 448 358 M422 366 C430 360 442 360 450 368 M428 376 C432 368 436 362 436 350" stroke="#8fc57e" stroke-width="1" fill="none"/><circle cx="435.5" cy="364" r="15.6" fill="none" stroke="#a2d18f" stroke-width="1"/><rect x="388.5" y="367.5" width="19" height="6.4" rx="3.2" fill="#f6c544" transform="rotate(8 398 370.7)"/><rect x="385.5" y="375.6" width="20" height="7" rx="3.5" fill="#f2bb36" transform="rotate(4 395 379)"/><path d="M420 375 L433 384 L428 388 L417 381 Z" fill="#f3bd3a"/><circle cx="411.2" cy="377.4" r="8.8" fill="#e8432d"/><circle cx="408.6" cy="375" r="3.4" fill="#f0644f" opacity="0.7"/><path d="M407 369.5 L411 371.4 L412 367.6 L413.4 371.4 L417 370 L414 373 L409 373 Z" fill="#3f8f36"/><path d="M446.5 367.5 C450 364 452.5 366.5 454.5 365.5 C457.5 364 462 365.5 462.5 370 C463 376 459 384.5 454.5 385 C450 385.5 445.5 379 445.5 373 C445.5 370.5 445.8 368.5 446.5 367.5Z" fill="#e2302a"/><path d="M454.4 366 C454.2 363.6 455.4 362 457.2 361.4" stroke="#3f8f36" stroke-width="1.3" fill="none" stroke-linecap="round"/><path d="M449.5 369 C448.4 373 449 377 450.6 380" stroke="#f2675c" stroke-width="1.2" fill="none" stroke-linecap="round"/><path d="M458 377 C458 372.5 462 370.5 465.6 371.5 C469 370 473.5 372.5 473.6 377 C474 382 472 387.4 466.4 387.6 C460.5 387.8 457.6 382.5 458 377Z" fill="#f7c731"/><path d="M461 376 C460.6 379 461.4 382 462.8 384" stroke="#fbe07a" stroke-width="1.2" fill="none" stroke-linecap="round"/><circle cx="427.6" cy="383.2" r="4.4" fill="#4f9d3c"/><circle cx="427.6" cy="383.2" r="3.5" fill="#c9e6b0"/><circle cx="423.6" cy="383.2" r="4.8" fill="#4f9d3c"/><circle cx="423.6" cy="383.2" r="3.9" fill="#c9e6b0"/><circle cx="418.2" cy="383.6" r="5.2" fill="#4f9d3c"/><circle cx="418.2" cy="383.6" r="4.3" fill="#c9e6b0"/><path d="M439.2 372 C439.6 375 444.6 377.5 444.6 382 C444.6 386 441.5 387.4 439.2 387.4 C436.8 387.4 433.6 386 433.6 382 C433.6 377.5 438.8 375 439.2 372Z" fill="#ece7e1" stroke="#cfc7bd" stroke-width="0.5"/><path d="M439.2 375 V387 M436.4 380 C436 383 436.6 385.6 437.6 387" stroke="#d6cec4" stroke-width="0.5" fill="none"/><path d="M438.8 389.6 C442.6 391.6 450.4 390.6 455.2 386.6 C450.4 387.4 444.6 387.6 438.8 389.6Z" fill="#5aa23e" stroke="#5aa23e" stroke-width="1.2" stroke-linejoin="round"/>
<g transform="translate(173.5 170.5) scale(0.825)" style="--c:#e8979b;--c2:#e75350;--l:#cf7480;--t:#d98790;--s:#f6ada2;--so:#e98b83;--st:#f0a3a3"><path d="M19 1.8 Q22.5 0.6 26.3 3 L28.8 15 L22 15 Z" style="fill:var(--st)"/><g transform="translate(0.0 0)"><path d="M7.5 68 C6 56 5.4 40 5.6 17" fill="none" style="stroke:var(--c)" stroke-width="9.870000000000001" stroke-linecap="round" stroke-linejoin="round"/><g style="fill:var(--c)"><circle cx="7.5" cy="68.0" r="5.9"/><circle cx="6.8" cy="61.2" r="5.9"/><circle cx="6.3" cy="54.5" r="5.9"/><circle cx="6.0" cy="47.7" r="5.9"/><circle cx="5.7" cy="40.9" r="5.9"/><circle cx="5.6" cy="34.1" r="5.9"/><circle cx="5.6" cy="27.3" r="5.9"/><circle cx="5.6" cy="20.5" r="5.9"/></g><path d="M2.5 65.1Q7.0 63.4 11.7 64.1M1.9 58.2Q6.4 56.7 11.1 57.5M1.5 51.3Q6.0 49.9 10.7 50.8M1.2 44.4Q5.8 43.1 10.5 44.1M1.0 37.6Q5.6 36.3 10.3 37.4M0.9 30.7Q5.6 29.5 10.2 30.6M0.9 23.9Q5.6 22.7 10.2 23.9M1.0 17.0Q5.6 15.9 10.2 17.1" fill="none" style="stroke:var(--l)" stroke-width="0.6" opacity="0.32"/></g><path d="M-2 75 C-2 64 6 58 14 60 C22 62 25.5 72 25 80 C24.5 88 17 92.5 9.5 91.5 C2 90.5 -2 84 -2 75Z" style="fill:var(--c)"/><path d="M24 86 C28.5 86.5 31 90 29.5 93 C28.5 95.5 30 98 31.5 97" fill="none" style="stroke:var(--c)" stroke-width="1.9" stroke-linecap="round"/><g clip-path="url(#ucclip)"><g filter="url(#glow)"><path d="M86.5 8.5 C88.5 14 89.5 24 89.7 33.7 C89.9 38 90.2 42 90.6 46" fill="none" style="stroke:var(--c2)" stroke-width="12.18" stroke-linecap="round" stroke-linejoin="round"/><g style="fill:var(--c2)"><circle cx="86.5" cy="8.5" r="7.1"/><circle cx="88.1" cy="15.1" r="7.1"/><circle cx="89.0" cy="21.8" r="7.1"/><circle cx="89.5" cy="28.6" r="7.1"/><circle cx="89.8" cy="35.4" r="7.1"/><circle cx="90.3" cy="42.2" r="7.1"/></g><path d="M93.1 10.4Q87.7 12.9 81.8 13.1M94.4 17.7Q88.8 19.6 82.9 19.2M95.1 24.8Q89.4 26.4 83.5 25.6M95.4 31.8Q89.7 33.2 83.9 32.2M95.8 38.4Q90.1 40.0 84.2 39.2M96.3 45.0Q90.7 46.8 84.8 46.1" fill="none" style="stroke:var(--l)" stroke-width="0.6" opacity="0.32"/><path d="M90 40 C91 50 92.4 58 92.4 66 C92.4 76 90.6 83 84.6 87.8 C79 92.3 70 93.8 60 91.8" fill="none" style="stroke:var(--c2)" stroke-width="13.23" stroke-linecap="round" stroke-linejoin="round"/><g style="fill:var(--c2)"><circle cx="90.0" cy="40.0" r="8.1"/><circle cx="90.9" cy="48.1" r="8.1"/><circle cx="91.8" cy="56.3" r="8.1"/><circle cx="92.4" cy="64.5" r="8.1"/><circle cx="92.1" cy="72.7" r="8.1"/><circle cx="90.1" cy="80.6" r="8.1"/><circle cx="85.3" cy="87.2" r="8.1"/><circle cx="78.2" cy="91.2" r="8.1"/><circle cx="70.2" cy="92.6" r="8.1"/><circle cx="62.0" cy="92.2" r="8.1"/></g><path d="M96.7 43.4Q90.6 45.3 84.2 44.8M97.7 51.5Q91.5 53.4 85.1 52.9M98.5 60.0Q92.3 61.6 85.9 60.8M98.7 68.8Q92.3 69.8 86.0 68.3M97.5 78.2Q91.1 77.9 85.2 75.2M93.2 87.9Q87.4 85.1 83.0 80.4M85.1 95.1Q80.9 90.1 78.9 84.0M75.3 98.4Q73.1 92.4 73.2 86.0M65.7 98.9Q64.9 92.5 66.5 86.3" fill="none" style="stroke:var(--l)" stroke-width="0.6" opacity="0.5"/><path d="M43.5 86 C43.5 97 44.5 106 46 113 C47 119.5 50 123 53 123 C56 123 58 119.5 58.8 113 C59.8 106 60.5 97 60.5 86 Z" style="fill:var(--c2)"/></g></g><use href="#gs"/><path d="M86.5 8.5 C88 13 89 20 89.6 31.5" fill="none" style="stroke:var(--c)" stroke-width="12.18" stroke-linecap="butt" stroke-linejoin="round"/><g style="fill:var(--c)"><circle cx="86.5" cy="8.5" r="7.1"/><circle cx="88.0" cy="15.1" r="7.1"/><circle cx="88.9" cy="21.9" r="7.1"/></g><path d="M93.0 10.5Q87.7 12.9 81.8 13.1M94.3 17.8Q88.7 19.7 82.8 19.2" fill="none" style="stroke:var(--l)" stroke-width="0.6" opacity="0"/><g transform="translate(0 0.0)"><path d="M6.5 15.5 C14 16.5 22 20.5 30 23.5 C38 26 44 26.2 48 25.8 C58 25 68 20 76 13 C80 9.5 83 8 86.5 8.5" fill="none" style="stroke:var(--c)" stroke-width="12.81" stroke-linecap="round" stroke-linejoin="round"/><g style="fill:var(--c)"><circle cx="6.5" cy="15.5" r="7.4"/><circle cx="13.1" cy="17.0" r="7.4"/><circle cx="19.5" cy="19.3" r="7.4"/><circle cx="25.8" cy="21.9" r="7.4"/><circle cx="32.2" cy="24.2" r="7.4"/><circle cx="38.9" cy="25.5" r="7.4"/><circle cx="45.7" cy="25.9" r="7.4"/><circle cx="52.4" cy="25.2" r="7.4"/><circle cx="58.9" cy="23.3" r="7.4"/><circle cx="65.1" cy="20.5" r="7.4"/><circle cx="70.9" cy="17.0" r="7.4"/><circle cx="76.3" cy="12.8" r="7.4"/><circle cx="81.9" cy="9.1" r="7.4"/></g><path d="M11.2 10.2Q11.0 16.4 8.5 22.1M18.4 12.4Q17.5 18.5 14.3 23.9M25.0 14.9Q23.8 21.0 20.4 26.2M31.2 17.4Q30.1 23.5 26.8 28.8M36.8 19.0Q36.7 25.2 34.3 30.9M42.6 19.8Q43.5 26.0 41.9 32.0M48.3 19.6Q50.2 25.6 49.7 31.8M54.0 18.5Q56.9 24.0 57.4 30.2M59.6 16.5Q63.2 21.5 64.6 27.6M64.9 13.6Q69.1 18.2 71.3 24.0M69.9 10.2Q74.6 14.2 77.4 19.7M75.5 5.6Q79.9 10.0 82.4 15.7M85.2 2.3Q86.4 8.4 85.2 14.5" fill="none" style="stroke:var(--l)" stroke-width="0.6" opacity="0.32"/><path d="M6.5 15.5 C14 16.5 22 20.5 30 23.5 C38 26 44 26.2 48 25.8 C58 25 68 20 76 13 C80 9.5 83 8 86.5 8.5" fill="none" style="stroke:var(--t)" stroke-width="0.9" opacity="0.7"/></g></g>
<g transform="translate(282 170.2) scale(0.825)" style="--c:#e65457;--c2:#e65457;--l:#c93a40;--t:#f3a890;--s:#f17c7a;--so:#e35c5c;--st:#ee6e6e"><g filter="url(#glow)"><path d="M19 1.8 Q22.5 0.6 26.3 3 L28.8 15 L22 15 Z" style="fill:var(--st)"/><g transform="translate(0.0 0)"><path d="M7.5 68 C6 56 5.4 40 5.6 17" fill="none" style="stroke:var(--c)" stroke-width="10.152000000000001" stroke-linecap="round" stroke-linejoin="round"/><g style="fill:var(--c)"><circle cx="7.5" cy="68.0" r="6.1"/><circle cx="6.8" cy="61.2" r="6.1"/><circle cx="6.3" cy="54.5" r="6.1"/><circle cx="6.0" cy="47.7" r="6.1"/><circle cx="5.7" cy="40.9" r="6.1"/><circle cx="5.6" cy="34.1" r="6.1"/><circle cx="5.6" cy="27.3" r="6.1"/><circle cx="5.6" cy="20.5" r="6.1"/></g><path d="M2.4 65.1Q7.0 63.4 11.9 64.1M1.8 58.2Q6.4 56.7 11.3 57.5M1.3 51.3Q6.0 49.9 10.9 50.8M1.1 44.4Q5.8 43.1 10.6 44.1M0.9 37.6Q5.6 36.3 10.4 37.4M0.8 30.7Q5.6 29.5 10.4 30.6M0.8 23.9Q5.6 22.7 10.3 23.9M0.8 17.0Q5.6 15.9 10.4 17.1" fill="none" style="stroke:var(--l)" stroke-width="0.6" opacity="0.32"/></g><path d="M-2 75 C-2 64 6 58 14 60 C22 62 25.5 72 25 80 C24.5 88 17 92.5 9.5 91.5 C2 90.5 -2 84 -2 75Z" style="fill:var(--c)"/><path d="M24 86 C28.5 86.5 31 90 29.5 93 C28.5 95.5 30 98 31.5 97" fill="none" style="stroke:var(--c)" stroke-width="1.9" stroke-linecap="round"/><path d="M86.5 8.5 C88.5 14 89.5 24 89.7 33.7 C89.9 38 90.2 42 90.6 46" fill="none" style="stroke:var(--c2)" stroke-width="12.528" stroke-linecap="round" stroke-linejoin="round"/><g style="fill:var(--c2)"><circle cx="86.5" cy="8.5" r="7.3"/><circle cx="88.1" cy="15.1" r="7.3"/><circle cx="89.0" cy="21.8" r="7.3"/><circle cx="89.5" cy="28.6" r="7.3"/><circle cx="89.8" cy="35.4" r="7.3"/><circle cx="90.3" cy="42.2" r="7.3"/></g><path d="M93.3 10.4Q87.7 12.9 81.7 13.1M94.6 17.7Q88.8 19.6 82.7 19.2M95.3 24.8Q89.4 26.4 83.4 25.6M95.6 31.8Q89.7 33.2 83.7 32.2M95.9 38.4Q90.1 40.0 84.0 39.2M96.5 45.0Q90.7 46.8 84.6 46.2" fill="none" style="stroke:var(--l)" stroke-width="0.6" opacity="0.32"/><path d="M90 40 C91 50 92.4 58 92.4 66 C92.4 76 90.6 83 84.6 87.8 C79 92.3 70 93.8 60 91.8" fill="none" style="stroke:var(--c2)" stroke-width="13.608" stroke-linecap="round" stroke-linejoin="round"/><g style="fill:var(--c2)"><circle cx="90.0" cy="40.0" r="8.3"/><circle cx="90.9" cy="48.1" r="8.3"/><circle cx="91.8" cy="56.3" r="8.3"/><circle cx="92.4" cy="64.5" r="8.3"/><circle cx="92.1" cy="72.7" r="8.3"/><circle cx="90.1" cy="80.6" r="8.3"/><circle cx="85.3" cy="87.2" r="8.3"/><circle cx="78.2" cy="91.2" r="8.3"/><circle cx="70.2" cy="92.6" r="8.3"/><circle cx="62.0" cy="92.2" r="8.3"/></g><path d="M96.9 43.3Q90.6 45.3 84.0 44.8M97.9 51.5Q91.5 53.4 84.9 53.0M98.7 59.9Q92.3 61.6 85.7 60.8M98.9 68.8Q92.3 69.8 85.9 68.3M97.7 78.2Q91.1 77.9 85.0 75.2M93.3 88.0Q87.4 85.1 82.8 80.3M85.2 95.2Q80.9 90.1 78.8 83.9M75.4 98.6Q73.1 92.4 73.2 85.8M65.7 99.1Q64.9 92.5 66.5 86.1" fill="none" style="stroke:var(--l)" stroke-width="0.6" opacity="0.5"/><path d="M43.5 86 C43.5 97 44.5 106 46 113 C47 119.5 50 123 53 123 C56 123 58 119.5 58.8 113 C59.8 106 60.5 97 60.5 86 Z" style="fill:var(--c2)"/><use href="#gs"/><path d="M86.5 8.5 C88 13 89 20 89.6 31.5" fill="none" style="stroke:var(--c)" stroke-width="12.528" stroke-linecap="butt" stroke-linejoin="round"/><g style="fill:var(--c)"><circle cx="86.5" cy="8.5" r="7.3"/><circle cx="88.0" cy="15.1" r="7.3"/><circle cx="88.9" cy="21.9" r="7.3"/></g><path d="M93.2 10.4Q87.7 12.9 81.6 13.1M94.4 17.7Q88.7 19.7 82.6 19.2" fill="none" style="stroke:var(--l)" stroke-width="0.6" opacity="0"/><g transform="translate(0 0.0)"><path d="M6.5 15.5 C14 16.5 22 20.5 30 23.5 C38 26 44 26.2 48 25.8 C58 25 68 20 76 13 C80 9.5 83 8 86.5 8.5" fill="none" style="stroke:var(--c)" stroke-width="13.176" stroke-linecap="round" stroke-linejoin="round"/><g style="fill:var(--c)"><circle cx="6.5" cy="15.5" r="7.6"/><circle cx="13.1" cy="17.0" r="7.6"/><circle cx="19.5" cy="19.3" r="7.6"/><circle cx="25.8" cy="21.9" r="7.6"/><circle cx="32.2" cy="24.2" r="7.6"/><circle cx="38.9" cy="25.5" r="7.6"/><circle cx="45.7" cy="25.9" r="7.6"/><circle cx="52.4" cy="25.2" r="7.6"/><circle cx="58.9" cy="23.3" r="7.6"/><circle cx="65.1" cy="20.5" r="7.6"/><circle cx="70.9" cy="17.0" r="7.6"/><circle cx="76.3" cy="12.8" r="7.6"/><circle cx="81.9" cy="9.1" r="7.6"/></g><path d="M11.3 10.0Q11.0 16.4 8.4 22.2M18.5 12.2Q17.5 18.5 14.2 24.0M25.0 14.8Q23.8 21.0 20.3 26.4M31.2 17.2Q30.1 23.5 26.7 29.0M36.8 18.8Q36.7 25.2 34.2 31.1M42.6 19.6Q43.5 26.0 41.9 32.2M48.3 19.5Q50.2 25.6 49.8 31.9M54.0 18.3Q56.9 24.0 57.4 30.4M59.5 16.3Q63.2 21.5 64.7 27.8M64.8 13.5Q69.1 18.2 71.4 24.2M69.7 10.0Q74.6 14.2 77.6 19.9M75.4 5.5Q79.9 10.0 82.5 15.9M85.2 2.1Q86.4 8.4 85.2 14.7" fill="none" style="stroke:var(--l)" stroke-width="0.6" opacity="0.32"/><path d="M6.5 15.5 C14 16.5 22 20.5 30 23.5 C38 26 44 26.2 48 25.8 C58 25 68 20 76 13 C80 9.5 83 8 86.5 8.5" fill="none" style="stroke:var(--t)" stroke-width="0.9" opacity="0.7"/></g></g></g>
<g transform="translate(652.5 110) scale(0.905)" style="--c:#f1635c;--c2:#f1635c;--l:#d9433f;--t:#e0504a;--s:#f6938a;--so:#eb655f;--st:#f47f78"><g filter="url(#glowL)"><path d="M19 1.8 Q22.5 0.6 26.3 3 L28.8 15 L22 15 Z" style="fill:var(--st)"/><g transform="translate(1.6 0)"><path d="M7.5 68 C6 56 5.4 40 5.6 17" fill="none" style="stroke:var(--c)" stroke-width="14.100000000000001" stroke-linecap="round" stroke-linejoin="round"/><g style="fill:var(--c)"><circle cx="7.5" cy="68.0" r="8.1"/><circle cx="6.8" cy="61.2" r="8.1"/><circle cx="6.3" cy="54.5" r="8.1"/><circle cx="6.0" cy="47.7" r="8.1"/><circle cx="5.7" cy="40.9" r="8.1"/><circle cx="5.6" cy="34.1" r="8.1"/><circle cx="5.6" cy="27.3" r="8.1"/><circle cx="5.6" cy="20.5" r="8.1"/></g><path d="M0.4 65.3Q7.0 63.4 13.8 63.9M-0.2 58.3Q6.4 56.7 13.2 57.4M-0.6 51.4Q6.0 49.9 12.8 50.7M-0.9 44.5Q5.8 43.1 12.6 44.0M-1.1 37.6Q5.6 36.3 12.4 37.4M-1.2 30.7Q5.6 29.5 12.3 30.6M-1.2 23.9Q5.6 22.7 12.3 23.9M-1.2 17.0Q5.6 15.9 12.3 17.1" fill="none" style="stroke:var(--l)" stroke-width="0.6" opacity="0.32"/></g><path d="M-2 75 C-2 64 6 58 14 60 C22 62 25.5 72 25 80 C24.5 88 17 92.5 9.5 91.5 C2 90.5 -2 84 -2 75Z" style="fill:var(--c)"/><path d="M24 86 C28.5 86.5 31 90 29.5 93 C28.5 95.5 30 98 31.5 97" fill="none" style="stroke:var(--c)" stroke-width="1.9" stroke-linecap="round"/><path d="M86.5 8.5 C88.5 14 89.5 24 89.7 33.7 C89.9 38 90.2 42 90.6 46" fill="none" style="stroke:var(--c2)" stroke-width="13.339999999999998" stroke-linecap="round" stroke-linejoin="round"/><g style="fill:var(--c2)"><circle cx="86.5" cy="8.5" r="7.7"/><circle cx="88.1" cy="15.1" r="7.7"/><circle cx="89.0" cy="21.8" r="7.7"/><circle cx="89.5" cy="28.6" r="7.7"/><circle cx="89.8" cy="35.4" r="7.7"/><circle cx="90.3" cy="42.2" r="7.7"/></g><path d="M93.7 10.3Q87.7 12.9 81.3 13.2M95.0 17.6Q88.8 19.6 82.3 19.3M95.7 24.8Q89.4 26.4 83.0 25.7M96.0 31.8Q89.7 33.2 83.3 32.2M96.3 38.4Q90.1 40.0 83.6 39.2M96.9 45.0Q90.7 46.8 84.2 46.2" fill="none" style="stroke:var(--l)" stroke-width="0.6" opacity="0.32"/><path d="M90 40 C91 50 92.4 58 92.4 66 C92.4 76 90.6 83 84.6 87.8 C79 92.3 70 93.8 60 91.8" fill="none" style="stroke:var(--c2)" stroke-width="14.489999999999998" stroke-linecap="round" stroke-linejoin="round"/><g style="fill:var(--c2)"><circle cx="90.0" cy="40.0" r="8.7"/><circle cx="90.9" cy="48.1" r="8.7"/><circle cx="91.8" cy="56.3" r="8.7"/><circle cx="92.4" cy="64.5" r="8.7"/><circle cx="92.1" cy="72.7" r="8.7"/><circle cx="90.1" cy="80.6" r="8.7"/><circle cx="85.3" cy="87.2" r="8.7"/><circle cx="78.2" cy="91.2" r="8.7"/><circle cx="70.2" cy="92.6" r="8.7"/><circle cx="62.0" cy="92.2" r="8.7"/></g><path d="M97.3 43.3Q90.6 45.3 83.5 44.9M98.3 51.4Q91.5 53.4 84.5 53.0M99.1 59.9Q92.3 61.6 85.3 60.8M99.3 68.8Q92.3 69.8 85.4 68.3M98.1 78.3Q91.1 77.9 84.6 75.1M93.7 88.2Q87.4 85.1 82.5 80.1M85.4 95.6Q80.9 90.1 78.6 83.5M75.4 99.0Q73.1 92.4 73.1 85.3M65.7 99.5Q64.9 92.5 66.5 85.7" fill="none" style="stroke:var(--l)" stroke-width="0.6" opacity="0.5"/><path d="M43.5 86 C43.5 97 44.5 106 46 113 C47 119.5 50 123 53 123 C56 123 58 119.5 58.8 113 C59.8 106 60.5 97 60.5 86 Z" style="fill:var(--c2)"/><use href="#gs"/><g transform="translate(1.6 0)"><path d="M7.5 68 C6 56 5.4 40 5.6 17" fill="none" style="stroke:var(--c)" stroke-width="14.100000000000001" stroke-linecap="round" stroke-linejoin="round"/><g style="fill:var(--c)"><circle cx="7.5" cy="68.0" r="8.1"/><circle cx="6.8" cy="61.2" r="8.1"/><circle cx="6.3" cy="54.5" r="8.1"/><circle cx="6.0" cy="47.7" r="8.1"/><circle cx="5.7" cy="40.9" r="8.1"/><circle cx="5.6" cy="34.1" r="8.1"/><circle cx="5.6" cy="27.3" r="8.1"/><circle cx="5.6" cy="20.5" r="8.1"/></g><path d="M0.4 65.3Q7.0 63.4 13.8 63.9M-0.2 58.3Q6.4 56.7 13.2 57.4M-0.6 51.4Q6.0 49.9 12.8 50.7M-0.9 44.5Q5.8 43.1 12.6 44.0M-1.1 37.6Q5.6 36.3 12.4 37.4M-1.2 30.7Q5.6 29.5 12.3 30.6M-1.2 23.9Q5.6 22.7 12.3 23.9M-1.2 17.0Q5.6 15.9 12.3 17.1" fill="none" style="stroke:var(--l)" stroke-width="0.6" opacity="0.32"/></g><path d="M86.5 8.5 C88 13 89 20 89.6 31.5" fill="none" style="stroke:var(--c)" stroke-width="13.339999999999998" stroke-linecap="butt" stroke-linejoin="round"/><g style="fill:var(--c)"><circle cx="86.5" cy="8.5" r="7.7"/><circle cx="88.0" cy="15.1" r="7.7"/><circle cx="88.9" cy="21.9" r="7.7"/></g><path d="M93.6 10.3Q87.7 12.9 81.2 13.2M94.9 17.7Q88.7 19.7 82.2 19.3" fill="none" style="stroke:var(--l)" stroke-width="0.6" opacity="0"/><g transform="translate(0 0.0)"><path d="M6.5 15.5 C14 16.5 22 20.5 30 23.5 C38 26 44 26.2 48 25.8 C58 25 68 20 76 13 C80 9.5 83 8 86.5 8.5" fill="none" style="stroke:var(--c)" stroke-width="14.029999999999998" stroke-linecap="round" stroke-linejoin="round"/><g style="fill:var(--c)"><circle cx="6.5" cy="15.5" r="8.0"/><circle cx="13.1" cy="17.0" r="8.0"/><circle cx="19.5" cy="19.3" r="8.0"/><circle cx="25.8" cy="21.9" r="8.0"/><circle cx="32.2" cy="24.2" r="8.0"/><circle cx="38.9" cy="25.5" r="8.0"/><circle cx="45.7" cy="25.9" r="8.0"/><circle cx="52.4" cy="25.2" r="8.0"/><circle cx="58.9" cy="23.3" r="8.0"/><circle cx="65.1" cy="20.5" r="8.0"/><circle cx="70.9" cy="17.0" r="8.0"/><circle cx="76.3" cy="12.8" r="8.0"/><circle cx="81.9" cy="9.1" r="8.0"/></g><path d="M11.4 9.6Q11.0 16.4 8.3 22.7M18.6 11.8Q17.5 18.5 14.1 24.4M25.2 14.4Q23.8 21.0 20.1 26.8M31.4 16.8Q30.1 23.5 26.6 29.4M36.9 18.4Q36.7 25.2 34.1 31.5M42.7 19.2Q43.5 26.0 41.9 32.6M48.3 19.0Q50.2 25.6 49.8 32.4M53.9 17.9Q56.9 24.0 57.6 30.8M59.3 15.9Q63.2 21.5 64.8 28.2M64.6 13.1Q69.1 18.2 71.6 24.6M69.5 9.7Q74.6 14.2 77.8 20.2M75.1 5.1Q79.9 10.0 82.7 16.2M85.2 1.7Q86.4 8.4 85.2 15.1" fill="none" style="stroke:var(--l)" stroke-width="0.6" opacity="0.32"/><path d="M6.5 15.5 C14 16.5 22 20.5 30 23.5 C38 26 44 26.2 48 25.8 C58 25 68 20 76 13 C80 9.5 83 8 86.5 8.5" fill="none" style="stroke:var(--t)" stroke-width="0.9" opacity="0.7"/></g></g></g>
<g transform="translate(527.5 295) scale(0.765)" style="--c:#f0a093;--c2:#f0a093;--l:#dd8476;--t:#e28b7e;--s:#f9c9bb;--so:#f0aa9a;--st:#f7bcae"><path d="M19 1.8 Q22.5 0.6 26.3 3 L28.8 15 L22 15 Z" style="fill:var(--st)"/><g transform="translate(0.0 0)"><path d="M7.5 68 C6 56 5.4 40 5.6 17" fill="none" style="stroke:var(--c)" stroke-width="9.870000000000001" stroke-linecap="round" stroke-linejoin="round"/><g style="fill:var(--c)"><circle cx="7.5" cy="68.0" r="5.9"/><circle cx="6.8" cy="61.2" r="5.9"/><circle cx="6.3" cy="54.5" r="5.9"/><circle cx="6.0" cy="47.7" r="5.9"/><circle cx="5.7" cy="40.9" r="5.9"/><circle cx="5.6" cy="34.1" r="5.9"/><circle cx="5.6" cy="27.3" r="5.9"/><circle cx="5.6" cy="20.5" r="5.9"/></g><path d="M2.5 65.1Q7.0 63.4 11.7 64.1M1.9 58.2Q6.4 56.7 11.1 57.5M1.5 51.3Q6.0 49.9 10.7 50.8M1.2 44.4Q5.8 43.1 10.5 44.1M1.0 37.6Q5.6 36.3 10.3 37.4M0.9 30.7Q5.6 29.5 10.2 30.6M0.9 23.9Q5.6 22.7 10.2 23.9M1.0 17.0Q5.6 15.9 10.2 17.1" fill="none" style="stroke:var(--l)" stroke-width="0.6" opacity="0.32"/></g><path d="M-2 75 C-2 64 6 58 14 60 C22 62 25.5 72 25 80 C24.5 88 17 92.5 9.5 91.5 C2 90.5 -2 84 -2 75Z" style="fill:var(--c)"/><path d="M24 86 C28.5 86.5 31 90 29.5 93 C28.5 95.5 30 98 31.5 97" fill="none" style="stroke:var(--c)" stroke-width="1.9" stroke-linecap="round"/><path d="M86.5 8.5 C88.5 14 89.5 24 89.7 33.7 C89.9 38 90.2 42 90.6 46" fill="none" style="stroke:var(--c2)" stroke-width="12.18" stroke-linecap="round" stroke-linejoin="round"/><g style="fill:var(--c2)"><circle cx="86.5" cy="8.5" r="7.1"/><circle cx="88.1" cy="15.1" r="7.1"/><circle cx="89.0" cy="21.8" r="7.1"/><circle cx="89.5" cy="28.6" r="7.1"/><circle cx="89.8" cy="35.4" r="7.1"/><circle cx="90.3" cy="42.2" r="7.1"/></g><path d="M93.1 10.4Q87.7 12.9 81.8 13.1M94.4 17.7Q88.8 19.6 82.9 19.2M95.1 24.8Q89.4 26.4 83.5 25.6M95.4 31.8Q89.7 33.2 83.9 32.2M95.8 38.4Q90.1 40.0 84.2 39.2M96.3 45.0Q90.7 46.8 84.8 46.1" fill="none" style="stroke:var(--l)" stroke-width="0.6" opacity="0.32"/><path d="M90 40 C91 50 92.4 58 92.4 66 C92.4 76 90.6 83 84.6 87.8 C79 92.3 70 93.8 60 91.8" fill="none" style="stroke:var(--c2)" stroke-width="13.23" stroke-linecap="round" stroke-linejoin="round"/><g style="fill:var(--c2)"><circle cx="90.0" cy="40.0" r="8.1"/><circle cx="90.9" cy="48.1" r="8.1"/><circle cx="91.8" cy="56.3" r="8.1"/><circle cx="92.4" cy="64.5" r="8.1"/><circle cx="92.1" cy="72.7" r="8.1"/><circle cx="90.1" cy="80.6" r="8.1"/><circle cx="85.3" cy="87.2" r="8.1"/><circle cx="78.2" cy="91.2" r="8.1"/><circle cx="70.2" cy="92.6" r="8.1"/><circle cx="62.0" cy="92.2" r="8.1"/></g><path d="M96.7 43.4Q90.6 45.3 84.2 44.8M97.7 51.5Q91.5 53.4 85.1 52.9M98.5 60.0Q92.3 61.6 85.9 60.8M98.7 68.8Q92.3 69.8 86.0 68.3M97.5 78.2Q91.1 77.9 85.2 75.2M93.2 87.9Q87.4 85.1 83.0 80.4M85.1 95.1Q80.9 90.1 78.9 84.0M75.3 98.4Q73.1 92.4 73.2 86.0M65.7 98.9Q64.9 92.5 66.5 86.3" fill="none" style="stroke:var(--l)" stroke-width="0.6" opacity="0.5"/><path d="M43.5 86 C43.5 97 44.5 106 46 113 C47 119.5 50 123 53 123 C56 123 58 119.5 58.8 113 C59.8 106 60.5 97 60.5 86 Z" style="fill:var(--c2)"/><use href="#gs"/><path d="M86.5 8.5 C88 13 89 20 89.6 31.5" fill="none" style="stroke:var(--c)" stroke-width="12.18" stroke-linecap="butt" stroke-linejoin="round"/><g style="fill:var(--c)"><circle cx="86.5" cy="8.5" r="7.1"/><circle cx="88.0" cy="15.1" r="7.1"/><circle cx="88.9" cy="21.9" r="7.1"/></g><path d="M93.0 10.5Q87.7 12.9 81.8 13.1M94.3 17.8Q88.7 19.7 82.8 19.2" fill="none" style="stroke:var(--l)" stroke-width="0.6" opacity="0"/><g transform="translate(0 0.0)"><path d="M6.5 15.5 C14 16.5 22 20.5 30 23.5 C38 26 44 26.2 48 25.8 C58 25 68 20 76 13 C80 9.5 83 8 86.5 8.5" fill="none" style="stroke:var(--c)" stroke-width="12.81" stroke-linecap="round" stroke-linejoin="round"/><g style="fill:var(--c)"><circle cx="6.5" cy="15.5" r="7.4"/><circle cx="13.1" cy="17.0" r="7.4"/><circle cx="19.5" cy="19.3" r="7.4"/><circle cx="25.8" cy="21.9" r="7.4"/><circle cx="32.2" cy="24.2" r="7.4"/><circle cx="38.9" cy="25.5" r="7.4"/><circle cx="45.7" cy="25.9" r="7.4"/><circle cx="52.4" cy="25.2" r="7.4"/><circle cx="58.9" cy="23.3" r="7.4"/><circle cx="65.1" cy="20.5" r="7.4"/><circle cx="70.9" cy="17.0" r="7.4"/><circle cx="76.3" cy="12.8" r="7.4"/><circle cx="81.9" cy="9.1" r="7.4"/></g><path d="M11.2 10.2Q11.0 16.4 8.5 22.1M18.4 12.4Q17.5 18.5 14.3 23.9M25.0 14.9Q23.8 21.0 20.4 26.2M31.2 17.4Q30.1 23.5 26.8 28.8M36.8 19.0Q36.7 25.2 34.3 30.9M42.6 19.8Q43.5 26.0 41.9 32.0M48.3 19.6Q50.2 25.6 49.7 31.8M54.0 18.5Q56.9 24.0 57.4 30.2M59.6 16.5Q63.2 21.5 64.6 27.6M64.9 13.6Q69.1 18.2 71.3 24.0M69.9 10.2Q74.6 14.2 77.4 19.7M75.5 5.6Q79.9 10.0 82.4 15.7M85.2 2.3Q86.4 8.4 85.2 14.5" fill="none" style="stroke:var(--l)" stroke-width="0.6" opacity="0.32"/><path d="M6.5 15.5 C14 16.5 22 20.5 30 23.5 C38 26 44 26.2 48 25.8 C58 25 68 20 76 13 C80 9.5 83 8 86.5 8.5" fill="none" style="stroke:var(--t)" stroke-width="0.9" opacity="0.7"/></g></g>
<g transform="translate(707 287) scale(0.905)" style="--c:#f0a093;--c2:#f0a093;--l:#dd8476;--t:#e28b7e;--s:#f9c9bb;--so:#f0aa9a;--st:#f7bcae"><path d="M19 1.8 Q22.5 0.6 26.3 3 L28.8 15 L22 15 Z" style="fill:var(--st)"/><g transform="translate(0.0 0)"><path d="M7.5 68 C6 56 5.4 40 5.6 17" fill="none" style="stroke:var(--c)" stroke-width="9.4" stroke-linecap="round" stroke-linejoin="round"/><g style="fill:var(--c)"><circle cx="7.5" cy="68.0" r="5.7"/><circle cx="6.8" cy="61.2" r="5.7"/><circle cx="6.3" cy="54.5" r="5.7"/><circle cx="6.0" cy="47.7" r="5.7"/><circle cx="5.7" cy="40.9" r="5.7"/><circle cx="5.6" cy="34.1" r="5.7"/><circle cx="5.6" cy="27.3" r="5.7"/><circle cx="5.6" cy="20.5" r="5.7"/></g><path d="M2.7 65.1Q7.0 63.4 11.5 64.2M2.1 58.2Q6.4 56.7 10.9 57.5M1.7 51.3Q6.0 49.9 10.5 50.8M1.4 44.4Q5.8 43.1 10.2 44.1M1.3 37.5Q5.6 36.3 10.1 37.4M1.2 30.7Q5.6 29.5 10.0 30.6M1.2 23.9Q5.6 22.7 10.0 23.9M1.2 17.0Q5.6 15.9 10.0 17.1" fill="none" style="stroke:var(--l)" stroke-width="0.6" opacity="0.32"/></g><path d="M-2 75 C-2 64 6 58 14 60 C22 62 25.5 72 25 80 C24.5 88 17 92.5 9.5 91.5 C2 90.5 -2 84 -2 75Z" style="fill:var(--c)"/><path d="M24 86 C28.5 86.5 31 90 29.5 93 C28.5 95.5 30 98 31.5 97" fill="none" style="stroke:var(--c)" stroke-width="1.9" stroke-linecap="round"/><path d="M86.5 8.5 C88.5 14 89.5 24 89.7 33.7 C89.9 38 90.2 42 90.6 46" fill="none" style="stroke:var(--c2)" stroke-width="11.6" stroke-linecap="round" stroke-linejoin="round"/><g style="fill:var(--c2)"><circle cx="86.5" cy="8.5" r="6.8"/><circle cx="88.1" cy="15.1" r="6.8"/><circle cx="89.0" cy="21.8" r="6.8"/><circle cx="89.5" cy="28.6" r="6.8"/><circle cx="89.8" cy="35.4" r="6.8"/><circle cx="90.3" cy="42.2" r="6.8"/></g><path d="M92.8 10.5Q87.7 12.9 82.1 13.0M94.1 17.7Q88.8 19.6 83.2 19.2M94.8 24.8Q89.4 26.4 83.8 25.6M95.2 31.8Q89.7 33.2 84.2 32.2M95.5 38.4Q90.1 40.0 84.5 39.2M96.0 45.0Q90.7 46.8 85.1 46.1" fill="none" style="stroke:var(--l)" stroke-width="0.6" opacity="0.32"/><path d="M90 40 C91 50 92.4 58 92.4 66 C92.4 76 90.6 83 84.6 87.8 C79 92.3 70 93.8 60 91.8" fill="none" style="stroke:var(--c2)" stroke-width="12.6" stroke-linecap="round" stroke-linejoin="round"/><g style="fill:var(--c2)"><circle cx="90.0" cy="40.0" r="7.8"/><circle cx="90.9" cy="48.1" r="7.8"/><circle cx="91.8" cy="56.3" r="7.8"/><circle cx="92.4" cy="64.5" r="7.8"/><circle cx="92.1" cy="72.7" r="7.8"/><circle cx="90.1" cy="80.6" r="7.8"/><circle cx="85.3" cy="87.2" r="7.8"/><circle cx="78.2" cy="91.2" r="7.8"/><circle cx="70.2" cy="92.6" r="7.8"/><circle cx="62.0" cy="92.2" r="7.8"/></g><path d="M96.4 43.4Q90.6 45.3 84.5 44.8M97.4 51.5Q91.5 53.4 85.4 52.9M98.2 60.0Q92.3 61.6 86.2 60.8M98.4 68.8Q92.3 69.8 86.4 68.4M97.2 78.1Q91.1 77.9 85.5 75.3M92.9 87.7Q87.4 85.1 83.2 80.6M84.9 94.8Q80.9 90.1 79.1 84.3M75.3 98.1Q73.1 92.4 73.3 86.3M65.7 98.6Q64.9 92.5 66.4 86.6" fill="none" style="stroke:var(--l)" stroke-width="0.6" opacity="0.5"/><path d="M43.5 86 C43.5 97 44.5 106 46 113 C47 119.5 50 123 53 123 C56 123 58 119.5 58.8 113 C59.8 106 60.5 97 60.5 86 Z" style="fill:var(--c2)"/><use href="#gs"/><path d="M86.5 8.5 C88 13 89 20 89.6 31.5" fill="none" style="stroke:var(--c)" stroke-width="11.6" stroke-linecap="butt" stroke-linejoin="round"/><g style="fill:var(--c)"><circle cx="86.5" cy="8.5" r="6.8"/><circle cx="88.0" cy="15.1" r="6.8"/><circle cx="88.9" cy="21.9" r="6.8"/></g><path d="M92.8 10.5Q87.7 12.9 82.0 13.0M94.0 17.8Q88.7 19.7 83.1 19.2" fill="none" style="stroke:var(--l)" stroke-width="0.6" opacity="0"/><g transform="translate(0 0.0)"><path d="M6.5 15.5 C14 16.5 22 20.5 30 23.5 C38 26 44 26.2 48 25.8 C58 25 68 20 76 13 C80 9.5 83 8 86.5 8.5" fill="none" style="stroke:var(--c)" stroke-width="12.2" stroke-linecap="round" stroke-linejoin="round"/><g style="fill:var(--c)"><circle cx="6.5" cy="15.5" r="7.1"/><circle cx="13.1" cy="17.0" r="7.1"/><circle cx="19.5" cy="19.3" r="7.1"/><circle cx="25.8" cy="21.9" r="7.1"/><circle cx="32.2" cy="24.2" r="7.1"/><circle cx="38.9" cy="25.5" r="7.1"/><circle cx="45.7" cy="25.9" r="7.1"/><circle cx="52.4" cy="25.2" r="7.1"/><circle cx="58.9" cy="23.3" r="7.1"/><circle cx="65.1" cy="20.5" r="7.1"/><circle cx="70.9" cy="17.0" r="7.1"/><circle cx="76.3" cy="12.8" r="7.1"/><circle cx="81.9" cy="9.1" r="7.1"/></g><path d="M11.2 10.5Q11.0 16.4 8.5 21.8M18.3 12.7Q17.5 18.5 14.4 23.6M24.9 15.2Q23.8 21.0 20.5 26.0M31.1 17.7Q30.1 23.5 26.9 28.5M36.7 19.3Q36.7 25.2 34.3 30.6M42.6 20.1Q43.5 26.0 41.9 31.7M48.4 19.9Q50.2 25.6 49.7 31.5M54.1 18.8Q56.9 24.0 57.3 30.0M59.7 16.7Q63.2 21.5 64.5 27.3M65.0 13.9Q69.1 18.2 71.1 23.8M70.1 10.4Q74.6 14.2 77.3 19.5M75.7 5.9Q79.9 10.0 82.2 15.5M85.2 2.6Q86.4 8.4 85.2 14.2" fill="none" style="stroke:var(--l)" stroke-width="0.6" opacity="0.32"/><path d="M6.5 15.5 C14 16.5 22 20.5 30 23.5 C38 26 44 26.2 48 25.8 C58 25 68 20 76 13 C80 9.5 83 8 86.5 8.5" fill="none" style="stroke:var(--t)" stroke-width="0.9" opacity="0.7"/></g></g>
<clipPath id="cp1"><circle cx="270" cy="255" r="23.75"/></clipPath><circle cx="270" cy="255" r="23.75" fill="#fdf1f4"/><g clip-path="url(#cp1)"><rect x="-4.3" y="-1.6" width="8.6" height="3.1" rx="1.6" fill="#e9496e" transform="translate(274.5 236.6) rotate(-65)"/><rect x="-5.0" y="-1.6" width="10.0" height="3.2" rx="1.6" fill="#e9496e" transform="translate(280.6 245.8) rotate(-60)"/><rect x="-5.8" y="-1.7" width="11.5" height="3.4" rx="1.7" fill="#e9496e" transform="translate(267.3 250.9) rotate(50)"/><rect x="-2.8" y="-1.3" width="5.5" height="2.6" rx="1.3" fill="#ec5f80" transform="translate(251.0 246.8) rotate(30)"/><rect x="-2.5" y="-1.2" width="5.0" height="2.4" rx="1.2" fill="#ec5f80" transform="translate(290.9 253.0) rotate(40)"/><rect x="-5.0" y="-1.6" width="10.0" height="3.1" rx="1.6" fill="#e9496e" transform="translate(256.1 265.2) rotate(2)"/><rect x="-5.2" y="-1.6" width="10.5" height="3.3" rx="1.6" fill="#e9496e" transform="translate(272.5 264.2) rotate(-42)"/><rect x="-3.2" y="-1.3" width="6.5" height="2.6" rx="1.3" fill="#ec5f80" transform="translate(289.9 261.1) rotate(70)"/><rect x="-3.0" y="-1.2" width="6.0" height="2.5" rx="1.2" fill="#ec5f80" transform="translate(284.7 269.3) rotate(-50)"/><rect x="-3.5" y="-1.4" width="7.0" height="2.7" rx="1.4" fill="#e9496e" transform="translate(267.3 273.4) rotate(42)"/><rect x="-2.2" y="-1.1" width="4.5" height="2.2" rx="1.1" fill="#f08aa3" transform="translate(262.2 239.6) rotate(45)"/><rect x="-2.2" y="-1.1" width="4.5" height="2.2" rx="1.1" fill="#f08aa3" transform="translate(256.9 253.0) rotate(-60)"/><rect x="-2.2" y="-1.1" width="4.5" height="2.2" rx="1.1" fill="#f08aa3" transform="translate(250.0 257.9) rotate(60)"/><rect x="-1.8" y="-0.9" width="3.5" height="1.8" rx="0.9" fill="#f6b4c5" transform="translate(278.0 255.5) rotate(20)"/><rect x="-1.8" y="-0.9" width="3.5" height="1.8" rx="0.9" fill="#f6b4c5" transform="translate(261.0 259.0) rotate(-30)"/><rect x="-1.8" y="-0.9" width="3.5" height="1.8" rx="0.9" fill="#f6b4c5" transform="translate(285.0 239.0) rotate(30)"/><rect x="-1.8" y="-0.9" width="3.5" height="1.8" rx="0.9" fill="#f6b4c5" transform="translate(256.0 272.0) rotate(-40)"/><rect x="-1.8" y="-0.9" width="3.5" height="1.8" rx="0.9" fill="#f6b4c5" transform="translate(279.0 275.0) rotate(10)"/><circle cx="282.3" cy="268.8" r="0.8" fill="#f3a0b6"/><circle cx="269.7" cy="265.8" r="0.7" fill="#f3a0b6"/><circle cx="260.0" cy="241.0" r="0.5" fill="#f3a0b6"/><circle cx="288.0" cy="258.2" r="0.7" fill="#f3a0b6"/><circle cx="270.0" cy="255.0" r="0.7" fill="#f3a0b6"/><circle cx="269.1" cy="250.1" r="0.9" fill="#f3a0b6"/><circle cx="270.5" cy="254.6" r="0.5" fill="#f3a0b6"/><circle cx="250.2" cy="249.7" r="0.7" fill="#f3a0b6"/><circle cx="271.9" cy="264.0" r="0.5" fill="#f3a0b6"/><circle cx="271.7" cy="264.4" r="0.7" fill="#f3a0b6"/><circle cx="270.5" cy="260.0" r="0.6" fill="#f3a0b6"/><circle cx="263.9" cy="256.6" r="0.5" fill="#f3a0b6"/><circle cx="276.4" cy="244.6" r="0.8" fill="#f3a0b6"/><circle cx="278.5" cy="275.0" r="0.8" fill="#f3a0b6"/></g><circle cx="270" cy="255" r="23.75" fill="none" stroke="#3a3a3a" stroke-width="1.3"/>
<clipPath id="cp2"><circle cx="657" cy="183" r="29"/></clipPath><circle cx="657" cy="183" r="29" fill="#fdf1f4"/><g clip-path="url(#cp2)"><rect x="-5.3" y="-1.9" width="10.5" height="3.8" rx="1.9" fill="#e9496e" transform="translate(662.5 160.5) rotate(-65)"/><rect x="-6.1" y="-2.0" width="12.2" height="3.9" rx="2.0" fill="#e9496e" transform="translate(669.9 171.8) rotate(-60)"/><rect x="-7.0" y="-2.1" width="14.0" height="4.2" rx="2.1" fill="#e9496e" transform="translate(653.7 178.0) rotate(50)"/><rect x="-3.4" y="-1.6" width="6.7" height="3.2" rx="1.6" fill="#ec5f80" transform="translate(633.8 173.0) rotate(30)"/><rect x="-3.1" y="-1.5" width="6.1" height="2.9" rx="1.5" fill="#ec5f80" transform="translate(682.5 180.6) rotate(40)"/><rect x="-6.1" y="-1.9" width="12.2" height="3.8" rx="1.9" fill="#e9496e" transform="translate(640.0 195.5) rotate(2)"/><rect x="-6.4" y="-2.0" width="12.8" height="4.0" rx="2.0" fill="#e9496e" transform="translate(660.1 194.2) rotate(-42)"/><rect x="-4.0" y="-1.6" width="7.9" height="3.2" rx="1.6" fill="#ec5f80" transform="translate(681.3 190.4) rotate(70)"/><rect x="-3.7" y="-1.5" width="7.3" height="3.1" rx="1.5" fill="#ec5f80" transform="translate(674.9 200.5) rotate(-50)"/><rect x="-4.3" y="-1.6" width="8.5" height="3.3" rx="1.6" fill="#e9496e" transform="translate(653.7 205.5) rotate(42)"/><rect x="-2.7" y="-1.3" width="5.5" height="2.7" rx="1.3" fill="#f08aa3" transform="translate(647.5 164.2) rotate(45)"/><rect x="-2.7" y="-1.3" width="5.5" height="2.7" rx="1.3" fill="#f08aa3" transform="translate(641.0 180.6) rotate(-60)"/><rect x="-2.7" y="-1.3" width="5.5" height="2.7" rx="1.3" fill="#f08aa3" transform="translate(632.6 186.5) rotate(60)"/><rect x="-2.1" y="-1.1" width="4.3" height="2.2" rx="1.1" fill="#f6b4c5" transform="translate(666.8 183.6) rotate(20)"/><rect x="-2.1" y="-1.1" width="4.3" height="2.2" rx="1.1" fill="#f6b4c5" transform="translate(646.0 187.9) rotate(-30)"/><rect x="-2.1" y="-1.1" width="4.3" height="2.2" rx="1.1" fill="#f6b4c5" transform="translate(675.3 163.5) rotate(30)"/><rect x="-2.1" y="-1.1" width="4.3" height="2.2" rx="1.1" fill="#f6b4c5" transform="translate(639.9 203.8) rotate(-40)"/><rect x="-2.1" y="-1.1" width="4.3" height="2.2" rx="1.1" fill="#f6b4c5" transform="translate(668.0 207.4) rotate(10)"/><circle cx="681.3" cy="176.1" r="0.5" fill="#f3a0b6"/><circle cx="676.2" cy="194.3" r="0.8" fill="#f3a0b6"/><circle cx="653.0" cy="175.8" r="0.7" fill="#f3a0b6"/><circle cx="644.9" cy="173.4" r="0.6" fill="#f3a0b6"/><circle cx="647.5" cy="187.4" r="0.8" fill="#f3a0b6"/><circle cx="682.3" cy="182.2" r="0.7" fill="#f3a0b6"/><circle cx="650.3" cy="185.4" r="0.5" fill="#f3a0b6"/><circle cx="669.2" cy="185.1" r="0.6" fill="#f3a0b6"/><circle cx="639.7" cy="199.3" r="0.7" fill="#f3a0b6"/><circle cx="651.1" cy="180.7" r="0.5" fill="#f3a0b6"/><circle cx="655.3" cy="186.2" r="0.7" fill="#f3a0b6"/><circle cx="675.0" cy="182.8" r="0.6" fill="#f3a0b6"/><circle cx="673.7" cy="169.8" r="0.8" fill="#f3a0b6"/><circle cx="673.9" cy="171.7" r="0.8" fill="#f3a0b6"/></g><circle cx="657" cy="183" r="29" fill="none" stroke="#3a3a3a" stroke-width="1.3"/>
<clipPath id="cb3"><circle cx="533" cy="359.6" r="24.5"/></clipPath><circle cx="533" cy="359.6" r="24.5" fill="#eff4fb"/><g clip-path="url(#cb3)"><rect x="-3.8" y="-1.6" width="7.5" height="3.2" rx="1.6" fill="#a9c3e3" stroke="#8fb0d8" stroke-width="0.5" transform="translate(521.5 343.9) rotate(65)"/><g transform="translate(533.0 345.4) rotate(48)" fill="#4382c4"><circle cx="-2.0" cy="0" r="2.0"/><circle cx="2.0" cy="0" r="2.0"/><rect x="-2.0" y="-1.4" width="4.0" height="2.9"/></g><path transform="translate(542.3 347.5) rotate(35) scale(0.83)" d="M0 4.6 L0 0 M0 0 L-3.6 -3.4 M0 0 L3.6 -3.4" fill="none" stroke="#4382c4" stroke-width="1.7" stroke-linecap="round"/><g transform="translate(513.7 354.9) rotate(95)" fill="#4382c4"><circle cx="-1.9" cy="0" r="1.9"/><circle cx="1.9" cy="0" r="1.9"/><rect x="-1.9" y="-1.4" width="3.8" height="2.8"/></g><path transform="translate(526.2 355.9) rotate(-150) scale(0.83)" d="M0 4.6 L0 0 M0 0 L-3.6 -3.4 M0 0 L3.6 -3.4" fill="none" stroke="#4382c4" stroke-width="1.7" stroke-linecap="round"/><path transform="translate(538.2 359.5) rotate(160) scale(0.83)" d="M0 4.6 L0 0 M0 0 L-3.6 -3.4 M0 0 L3.6 -3.4" fill="none" stroke="#4382c4" stroke-width="1.7" stroke-linecap="round"/><rect x="-5.0" y="-1.7" width="10.0" height="3.3" rx="1.7" fill="#a9c3e3" stroke="#8fb0d8" stroke-width="0.5" transform="translate(550.2 356.9) rotate(-25)"/><rect x="-5.0" y="-1.5" width="10.0" height="3.1" rx="1.5" fill="#4382c4" transform="translate(522.0 366.1) rotate(0)"/><rect x="-5.0" y="-1.5" width="10.0" height="3.1" rx="1.5" fill="#4382c4" transform="translate(538.7 370.4) rotate(-75)"/><rect x="-4.0" y="-1.7" width="7.9" height="3.3" rx="1.7" fill="#a9c3e3" stroke="#8fb0d8" stroke-width="0.5" transform="translate(526.8 374.6) rotate(65)"/><g transform="translate(552.2 368.9) rotate(-30)" fill="#4382c4"><circle cx="-1.8" cy="0" r="1.9"/><circle cx="1.8" cy="0" r="1.9"/><rect x="-1.8" y="-1.4" width="3.6" height="2.8"/></g><path transform="translate(546.0 375.7) rotate(-20) scale(0.83)" d="M0 4.6 L0 0 M0 0 L-3.6 -3.4 M0 0 L3.6 -3.4" fill="none" stroke="#4382c4" stroke-width="1.7" stroke-linecap="round"/><path transform="translate(516.3 375.4) rotate(140) scale(0.75)" d="M0 4.6 L0 0 M0 0 L-3.6 -3.4 M0 0 L3.6 -3.4" fill="none" stroke="#4382c4" stroke-width="1.7" stroke-linecap="round"/><g transform="translate(535.1 337.1) rotate(60)" fill="#4382c4"><circle cx="-1.8" cy="0" r="1.9"/><circle cx="1.8" cy="0" r="1.9"/><rect x="-1.8" y="-1.4" width="3.6" height="2.8"/></g><path d="M515.5 366.3 q-3 1 -4 4" fill="none" stroke="#c5d6ec" stroke-width="0.6"/></g><circle cx="533" cy="359.6" r="24.5" fill="none" stroke="#333" stroke-width="1.3"/>
<clipPath id="cb4"><circle cx="713.4" cy="361.2" r="29.4"/></clipPath><circle cx="713.4" cy="361.2" r="29.4" fill="#eff4fb"/><g clip-path="url(#cb4)"><rect x="-4.5" y="-1.9" width="9.0" height="3.9" rx="1.9" fill="#a9c3e3" stroke="#8fb0d8" stroke-width="0.5" transform="translate(699.6 342.4) rotate(65)"/><g transform="translate(713.4 344.2) rotate(48)" fill="#4382c4"><circle cx="-2.4" cy="0" r="2.4"/><circle cx="2.4" cy="0" r="2.4"/><rect x="-2.4" y="-1.7" width="4.8" height="3.5"/></g><path transform="translate(724.6 346.7) rotate(35) scale(1.00)" d="M0 4.6 L0 0 M0 0 L-3.6 -3.4 M0 0 L3.6 -3.4" fill="none" stroke="#4382c4" stroke-width="1.7" stroke-linecap="round"/><g transform="translate(690.2 355.5) rotate(95)" fill="#4382c4"><circle cx="-2.3" cy="0" r="2.3"/><circle cx="2.3" cy="0" r="2.3"/><rect x="-2.3" y="-1.7" width="4.5" height="3.3"/></g><path transform="translate(705.2 356.7) rotate(-150) scale(1.00)" d="M0 4.6 L0 0 M0 0 L-3.6 -3.4 M0 0 L3.6 -3.4" fill="none" stroke="#4382c4" stroke-width="1.7" stroke-linecap="round"/><path transform="translate(719.6 361.1) rotate(160) scale(1.00)" d="M0 4.6 L0 0 M0 0 L-3.6 -3.4 M0 0 L3.6 -3.4" fill="none" stroke="#4382c4" stroke-width="1.7" stroke-linecap="round"/><rect x="-6.0" y="-2.0" width="12.0" height="4.0" rx="2.0" fill="#a9c3e3" stroke="#8fb0d8" stroke-width="0.5" transform="translate(734.0 358.0) rotate(-25)"/><rect x="-6.0" y="-1.9" width="12.0" height="3.7" rx="1.9" fill="#4382c4" transform="translate(700.2 369.0) rotate(0)"/><rect x="-6.0" y="-1.9" width="12.0" height="3.7" rx="1.9" fill="#4382c4" transform="translate(720.2 374.2) rotate(-75)"/><rect x="-4.8" y="-2.0" width="9.5" height="4.0" rx="2.0" fill="#a9c3e3" stroke="#8fb0d8" stroke-width="0.5" transform="translate(705.9 379.2) rotate(65)"/><g transform="translate(736.5 372.4) rotate(-30)" fill="#4382c4"><circle cx="-2.1" cy="0" r="2.3"/><circle cx="2.1" cy="0" r="2.3"/><rect x="-2.1" y="-1.7" width="4.3" height="3.3"/></g><path transform="translate(729.0 380.5) rotate(-20) scale(1.00)" d="M0 4.6 L0 0 M0 0 L-3.6 -3.4 M0 0 L3.6 -3.4" fill="none" stroke="#4382c4" stroke-width="1.7" stroke-linecap="round"/><path transform="translate(693.4 380.2) rotate(140) scale(0.90)" d="M0 4.6 L0 0 M0 0 L-3.6 -3.4 M0 0 L3.6 -3.4" fill="none" stroke="#4382c4" stroke-width="1.7" stroke-linecap="round"/><g transform="translate(715.9 334.2) rotate(60)" fill="#4382c4"><circle cx="-2.1" cy="0" r="2.3"/><circle cx="2.1" cy="0" r="2.3"/><rect x="-2.1" y="-1.7" width="4.3" height="3.3"/></g><path d="M692.4 369.2 q-3 1 -4 4" fill="none" stroke="#c5d6ec" stroke-width="0.6"/></g><circle cx="713.4" cy="361.2" r="29.4" fill="none" stroke="#333" stroke-width="1.3"/>
<text x="57.00" y="135.00" textLength="22.50" lengthAdjust="spacingAndGlyphs" style="font-size:33.5px;font-weight:700;">A</text>
<text x="58.75" y="362.00" textLength="19.25" lengthAdjust="spacingAndGlyphs" style="font-size:34px;font-weight:700;">B</text>
<text x="7.00" y="168.00" textLength="123.00" lengthAdjust="spacingAndGlyphs" style="font-size:13.4px;">Lifestyle and other</text>
<text x="5.50" y="185.50" textLength="125.00" lengthAdjust="spacingAndGlyphs" style="font-size:13.4px;">factors that induce</text>
<text x="36.00" y="202.00" textLength="64.00" lengthAdjust="spacingAndGlyphs" style="font-size:13.4px;">Dysbiosis</text>
<line x1="7" y1="170.6" x2="133" y2="170.6" stroke="#222" stroke-width="1"/>
<line x1="5.5" y1="187.8" x2="135" y2="187.8" stroke="#222" stroke-width="1"/>
<line x1="36" y1="204.2" x2="100.5" y2="204.2" stroke="#222" stroke-width="1"/>
<text x="38.00" y="395.00" textLength="57.00" lengthAdjust="spacingAndGlyphs" style="font-size:13.6px;">Possible</text>
<text x="32.50" y="411.25" textLength="71.25" lengthAdjust="spacingAndGlyphs" style="font-size:13.6px;">restoration</text>
<text x="30.50" y="427.50" textLength="75.75" lengthAdjust="spacingAndGlyphs" style="font-size:13.6px;">Treatments</text>
<line x1="38" y1="397.6" x2="98" y2="397.6" stroke="#222" stroke-width="1"/>
<line x1="32.5" y1="413.9" x2="108" y2="413.9" stroke="#222" stroke-width="1"/>
<line x1="30.5" y1="430.1" x2="106.5" y2="430.1" stroke="#222" stroke-width="1"/>
<text x="159.50" y="88.00" textLength="68.50" lengthAdjust="spacingAndGlyphs" style="font-size:12.5px;font-weight:700;">Microbiome/</text>
<text x="151.00" y="101.00" textLength="86.00" lengthAdjust="spacingAndGlyphs" style="font-size:12.5px;font-weight:700;">host interaction</text>
<text x="254.50" y="79.50" textLength="55.50" lengthAdjust="spacingAndGlyphs" style="font-size:9.8px;font-weight:700;">Environment</text>
<text x="340.50" y="42.00" textLength="33.25" lengthAdjust="spacingAndGlyphs" style="font-size:9.8px;font-weight:700;">Genetic</text>
<text x="325.50" y="52.50" textLength="62.50" lengthAdjust="spacingAndGlyphs" style="font-size:9.8px;font-weight:700;">predisposition</text>
<text x="330.00" y="92.50" textLength="56.25" lengthAdjust="spacingAndGlyphs" style="font-size:9.8px;font-weight:700;">High Fat Diet</text>
<text x="453.75" y="92.50" textLength="65.75" lengthAdjust="spacingAndGlyphs" style="font-size:9.8px;font-weight:700;">Hospitalization</text>
<text x="530.50" y="92.50" textLength="46.50" lengthAdjust="spacingAndGlyphs" style="font-size:9.8px;font-weight:700;">Antibiotics</text>
<text x="650" y="91.25" textLength="83" lengthAdjust="spacingAndGlyphs" style="font-size:12.5px;font-weight:700">Patient with <tspan style="font-style:italic">C.</tspan></text>
<text x="645" y="105.5" textLength="96" lengthAdjust="spacingAndGlyphs" style="font-size:12.5px;font-weight:700"><tspan style="font-style:italic">difficile</tspan> infection</text>
<text x="165.75" y="167.00" textLength="96.25" lengthAdjust="spacingAndGlyphs" style="font-size:12.5px;font-weight:700;">Ulcerative colitis</text>
<text x="275.50" y="167.00" textLength="89.50" lengthAdjust="spacingAndGlyphs" style="font-size:12.5px;font-weight:700;">Crohn's disease</text>
<text x="249.50" y="291.25" textLength="41.00" lengthAdjust="spacingAndGlyphs" style="font-size:10.5px;font-weight:700;">Affected</text>
<text x="243.75" y="303.00" textLength="52.50" lengthAdjust="spacingAndGlyphs" style="font-size:10.5px;font-weight:700;">microbiota</text>
<text x="622.00" y="221.40" textLength="68.00" lengthAdjust="spacingAndGlyphs" style="font-size:10px;font-weight:700;">reduced alpha</text>
<text x="635.50" y="234.00" textLength="43.00" lengthAdjust="spacingAndGlyphs" style="font-size:10px;font-weight:700;">diversity</text>
<text x="631.40" y="245.70" textLength="52.60" lengthAdjust="spacingAndGlyphs" style="font-size:10px;font-weight:700;">microbiota</text>
<text x="177.00" y="343.50" textLength="41.00" lengthAdjust="spacingAndGlyphs" style="font-size:9.5px;font-weight:700;">Exclusive</text>
<text x="182.50" y="354.00" textLength="30.50" lengthAdjust="spacingAndGlyphs" style="font-size:9.5px;font-weight:700;">Enteral</text>
<text x="178.75" y="364.75" textLength="38.25" lengthAdjust="spacingAndGlyphs" style="font-size:9.5px;font-weight:700;">Nutrition</text>
<text x="194.50" y="387.25" textLength="6.00" lengthAdjust="spacingAndGlyphs" style="font-size:9.5px;font-weight:700;">&amp;</text>
<text x="183.00" y="409.00" textLength="29.00" lengthAdjust="spacingAndGlyphs" style="font-size:9.5px;font-weight:700;">Partial</text>
<text x="182.50" y="420.50" textLength="30.50" lengthAdjust="spacingAndGlyphs" style="font-size:9.5px;font-weight:700;">Enteral</text>
<text x="178.75" y="431.50" textLength="38.25" lengthAdjust="spacingAndGlyphs" style="font-size:9.5px;font-weight:700;">Nutrition</text>
<text x="242.50" y="418.50" textLength="44.50" lengthAdjust="spacingAndGlyphs" style="font-size:10px;font-weight:700;">Probiotics</text>
<text x="320.50" y="340.50" textLength="41.50" lengthAdjust="spacingAndGlyphs" style="font-size:9px;font-weight:700;">REBYOTA</text>
<text x="312.00" y="397.50" textLength="37.50" lengthAdjust="spacingAndGlyphs" style="font-size:9px;font-weight:700;">SER-109</text>
<text x="418.00" y="412.50" textLength="52.00" lengthAdjust="spacingAndGlyphs" style="font-size:11.5px;font-weight:700;">High Fiber</text>
<text x="409.50" y="425.00" textLength="70.00" lengthAdjust="spacingAndGlyphs" style="font-size:11.5px;font-weight:700;">Prebiotic Diet</text>
<text x="533.75" y="291.00" textLength="58.75" lengthAdjust="spacingAndGlyphs" style="font-size:9.5px;font-weight:700;">Healthy donor</text>
<text x="616.00" y="326.00" textLength="22.75" lengthAdjust="spacingAndGlyphs" style="font-size:9.5px;font-weight:700;">Fecal</text>
<text x="612.00" y="337.00" textLength="31.00" lengthAdjust="spacingAndGlyphs" style="font-size:9.5px;font-weight:700;">Sample</text>
<text x="517.50" y="393.75" textLength="32.00" lengthAdjust="spacingAndGlyphs" style="font-size:9.5px;font-weight:700;">Healthy</text>
<text x="510.50" y="404.50" textLength="45.75" lengthAdjust="spacingAndGlyphs" style="font-size:9.5px;font-weight:700;">microbiota</text>
<text x="520.00" y="418.75" textLength="118.75" lengthAdjust="spacingAndGlyphs" style="font-size:11px;font-weight:700;">Fecal Matter Transplant</text>
<text x="697.00" y="401.50" textLength="33.00" lengthAdjust="spacingAndGlyphs" style="font-size:9.5px;font-weight:700;">Healthy</text>
<text x="690.00" y="412.25" textLength="47.50" lengthAdjust="spacingAndGlyphs" style="font-size:9.5px;font-weight:700;">microbiota</text>
<text x="712.00" y="428.50" textLength="63.00" lengthAdjust="spacingAndGlyphs" style="font-size:12px;font-weight:700;">Microbiome</text>
<text x="712.00" y="441.50" textLength="66.75" lengthAdjust="spacingAndGlyphs" style="font-size:12px;font-weight:700;">Restauration</text>
</svg>
</body></html>
